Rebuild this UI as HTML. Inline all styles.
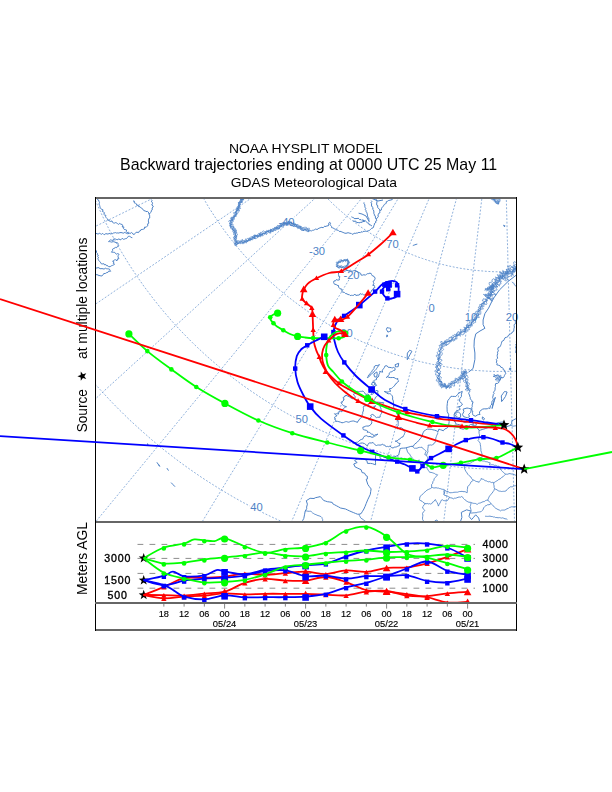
<!DOCTYPE html><html><head><meta charset="utf-8"><title>NOAA HYSPLIT MODEL</title><style>html,body{margin:0;padding:0;background:#fff;}svg{display:block;}text{font-family:"Liberation Sans",Arial,Helvetica,sans-serif;}</style></head><body>
<svg width="612" height="792" viewBox="0 0 612 792">
<rect width="612" height="792" fill="#fff"/>
<g style="filter:grayscale(1)">
<text x="228.9" y="152.6" font-size="13.4" textLength="153.6" lengthAdjust="spacingAndGlyphs">NOAA HYSPLIT MODEL</text>
<text x="120.0" y="169.9" font-size="15.9" textLength="377.2" lengthAdjust="spacingAndGlyphs">Backward trajectories ending at 0000 UTC 25 May 11</text>
<text x="230.7" y="186.6" font-size="13.0" textLength="166.3" lengthAdjust="spacingAndGlyphs">GDAS Meteorological Data</text>
<text transform="translate(87.3,432.2) rotate(-90)" font-size="14" textLength="42.9" lengthAdjust="spacingAndGlyphs">Source</text>
<polygon points="82.30,371.30 83.48,374.58 86.96,374.69 84.20,376.82 85.18,380.16 82.30,378.20 79.42,380.16 80.40,376.82 77.64,374.69 81.12,374.58" fill="#000" transform="rotate(-90 82.3 376.2)"/>
<text transform="translate(87.3,359.0) rotate(-90)" font-size="14" textLength="121.4" lengthAdjust="spacingAndGlyphs">at multiple locations</text>
<text transform="translate(87.3,595.1) rotate(-90)" font-size="14" textLength="73.1" lengthAdjust="spacingAndGlyphs">Meters AGL</text>
</g>
<defs><clipPath id="mapclip"><rect x="96" y="199" width="420" height="322"/></clipPath></defs>
<g clip-path="url(#mapclip)">
<path d="M-241.3 154.8L-230.1 152.9L-218.9 151.0L-207.9 149.1L-196.9 147.2L-186.1 145.3L-175.3 143.5L-164.6 141.6L-153.9 139.8L-143.4 138.0L-132.9 136.2L-122.4 134.4L-112.1 132.7L-101.8 130.9L-91.5 129.1L-81.4 127.4L-71.2 125.7L-61.1 123.9L-51.1 122.2L-41.1 120.5L-31.2 118.8L-21.3 117.1L-11.4 115.4L-1.5 113.7L8.3 112.0L18.0 110.4L27.8 108.7L37.5 107.0L47.2 105.4L56.9 103.7L66.6 102.1L76.2 100.4L85.9 98.8L95.5 97.1L105.1 95.5L114.8 93.8L124.4 92.2L134.0 90.5L143.7 88.9L153.3 87.2L163.0 85.5L172.7 83.9L182.4 82.2L192.1 80.6L201.9 78.9L211.6 77.2L221.5 75.5L231.3 73.8L241.2 72.2L251.2 70.4L261.2 68.7L271.3 67.0L281.4 65.3L291.6 63.5L301.9 61.8L312.4 60.0L322.9 58.2L333.5 56.4L344.2 54.5L355.1 52.6L366.2 50.8L377.5 48.8L388.9 46.9L400.7 44.9L412.7 42.8L425.1 40.7L437.9 38.5L451.3 36.2L465.6 33.7L481.4 31.0M-215.7 259.2L-204.8 255.7L-194.1 252.2L-183.4 248.7L-172.8 245.3L-162.3 241.9L-151.9 238.6L-141.6 235.2L-131.3 231.9L-121.1 228.6L-111.0 225.4L-100.9 222.1L-90.9 218.9L-81.0 215.7L-71.1 212.5L-61.2 209.3L-51.4 206.2L-41.7 203.0L-32.0 199.9L-22.4 196.8L-12.8 193.7L-3.2 190.6L6.3 187.5L15.8 184.4L25.3 181.4L34.7 178.3L44.1 175.3L53.5 172.3L62.9 169.2L72.3 166.2L81.6 163.2L90.9 160.2L100.2 157.2L109.5 154.2L118.8 151.2L128.1 148.2L137.4 145.2L146.7 142.2L156.0 139.2L165.4 136.2L174.7 133.2L184.0 130.1L193.4 127.1L202.8 124.1L212.2 121.0L221.7 118.0L231.1 114.9L240.7 111.9L250.2 108.8L259.8 105.7L269.5 102.5L279.2 99.4L289.0 96.2L298.9 93.1L308.9 89.8L318.9 86.6L329.0 83.3L339.3 80.0L349.7 76.7L360.2 73.3L370.9 69.8L381.8 66.3L392.8 62.7L404.1 59.1L415.8 55.3L427.7 51.5L440.1 47.5L453.1 43.3L466.9 38.8L482.1 33.9M-175.4 358.8L-165.2 353.8L-155.0 348.9L-145.0 343.9L-135.0 339.1L-125.1 334.2L-115.2 329.4L-105.5 324.6L-95.8 319.9L-86.2 315.2L-76.6 310.5L-67.1 305.9L-57.7 301.2L-48.3 296.6L-38.9 292.1L-29.7 287.5L-20.4 283.0L-11.2 278.5L-2.1 274.1L7.0 269.6L16.1 265.2L25.1 260.7L34.1 256.3L43.1 252.0L52.0 247.6L60.9 243.2L69.8 238.9L78.7 234.6L87.5 230.2L96.3 225.9L105.2 221.6L114.0 217.3L122.8 213.0L131.5 208.7L140.3 204.4L149.1 200.1L157.9 195.8L166.7 191.5L175.4 187.2L184.2 182.9L193.0 178.6L201.9 174.3L210.7 170.0L219.6 165.6L228.5 161.3L237.4 156.9L246.3 152.6L255.3 148.2L264.3 143.7L273.4 139.3L282.5 134.8L291.7 130.3L301.0 125.8L310.3 121.3L319.7 116.7L329.2 112.0L338.7 107.4L348.4 102.6L358.2 97.8L368.2 93.0L378.2 88.0L388.5 83.0L398.9 77.9L409.6 72.7L420.6 67.3L431.9 61.8L443.6 56.1L455.8 50.1L468.9 43.7L483.2 36.7M-121.4 451.8L-112.0 445.4L-102.7 439.0L-93.4 432.7L-84.2 426.4L-75.1 420.2L-66.1 414.1L-57.1 408.0L-48.2 401.9L-39.3 395.9L-30.5 389.9L-21.8 383.9L-13.1 378.0L-4.4 372.1L4.2 366.3L12.7 360.5L21.2 354.7L29.7 348.9L38.1 343.2L46.5 337.5L54.8 331.8L63.1 326.2L71.4 320.5L79.6 314.9L87.9 309.3L96.1 303.7L104.3 298.2L112.4 292.6L120.5 287.1L128.7 281.6L136.8 276.0L144.9 270.5L153.0 265.0L161.1 259.5L169.1 254.0L177.2 248.5L185.3 243.0L193.4 237.5L201.5 232.0L209.6 226.5L217.7 221.0L225.8 215.5L233.9 209.9L242.1 204.4L250.3 198.8L258.5 193.2L266.7 187.6L275.0 182.0L283.3 176.4L291.6 170.7L300.0 165.0L308.5 159.2L317.0 153.4L325.6 147.6L334.2 141.7L342.9 135.8L351.7 129.8L360.7 123.7L369.7 117.6L378.8 111.3L388.1 105.0L397.5 98.6L407.2 92.0L417.0 85.3L427.1 78.5L437.5 71.4L448.2 64.1L459.5 56.4L471.5 48.3L484.7 39.3M-54.8 536.1L-46.4 528.4L-38.0 520.8L-29.8 513.2L-21.6 505.7L-13.4 498.3L-5.3 490.9L2.7 483.6L10.7 476.3L18.6 469.1L26.4 461.9L34.2 454.8L42.0 447.7L49.7 440.6L57.4 433.6L65.0 426.7L72.6 419.7L80.2 412.8L87.7 406.0L95.2 399.1L102.6 392.3L110.0 385.5L117.4 378.8L124.8 372.1L132.1 365.3L139.5 358.7L146.8 352.0L154.1 345.3L161.3 338.7L168.6 332.1L175.8 325.4L183.1 318.8L190.3 312.2L197.5 305.6L204.7 299.0L211.9 292.5L219.2 285.9L226.4 279.3L233.6 272.7L240.8 266.1L248.1 259.5L255.3 252.8L262.6 246.2L269.9 239.5L277.2 232.9L284.5 226.2L291.9 219.5L299.2 212.7L306.7 205.9L314.1 199.1L321.6 192.3L329.2 185.4L336.8 178.4L344.4 171.4L352.1 164.4L359.9 157.3L367.8 150.1L375.8 142.8L383.8 135.5L392.0 128.0L400.3 120.4L408.7 112.7L417.3 104.9L426.1 96.8L435.1 88.6L444.4 80.1L454.0 71.4L464.1 62.2L474.8 52.4L486.5 41.6M23.2 610.1L30.4 601.3L37.6 592.6L44.7 583.9L51.8 575.3L58.8 566.8L65.7 558.3L72.6 549.9L79.5 541.6L86.3 533.3L93.0 525.1L99.7 516.9L106.4 508.8L113.0 500.7L119.6 492.7L126.2 484.7L132.7 476.8L139.2 468.9L145.7 461.0L152.1 453.2L158.5 445.4L164.9 437.6L171.3 429.9L177.6 422.2L183.9 414.5L190.2 406.8L196.5 399.2L202.8 391.6L209.0 384.0L215.3 376.4L221.5 368.8L227.7 361.2L233.9 353.7L240.1 346.1L246.3 338.6L252.6 331.0L258.8 323.5L265.0 315.9L271.2 308.3L277.4 300.8L283.6 293.2L289.9 285.6L296.1 278.0L302.4 270.4L308.6 262.8L315.0 255.1L321.3 247.4L327.6 239.7L334.0 231.9L340.4 224.1L346.9 216.2L353.4 208.3L359.9 200.4L366.5 192.4L373.1 184.3L379.8 176.1L386.6 167.9L393.4 159.6L400.4 151.2L407.4 142.6L414.5 133.9L421.8 125.1L429.2 116.1L436.7 106.9L444.5 97.5L452.4 87.8L460.7 77.7L469.4 67.2L478.6 56.0L488.7 43.7M110.9 672.3L116.8 662.5L122.6 652.8L128.4 643.3L134.2 633.8L139.9 624.3L145.6 615.0L151.2 605.7L156.8 596.5L162.4 587.3L167.9 578.2L173.4 569.2L178.9 560.2L184.3 551.2L189.7 542.3L195.0 533.5L200.4 524.7L205.7 516.0L210.9 507.3L216.2 498.6L221.4 490.0L226.6 481.4L231.8 472.8L237.0 464.3L242.2 455.8L247.3 447.3L252.5 438.8L257.6 430.4L262.7 422.0L267.8 413.6L272.9 405.2L277.9 396.8L283.0 388.5L288.1 380.1L293.2 371.7L298.2 363.4L303.3 355.0L308.4 346.7L313.4 338.3L318.5 329.9L323.6 321.6L328.7 313.2L333.8 304.7L338.9 296.3L344.1 287.8L349.2 279.4L354.4 270.8L359.6 262.3L364.8 253.7L370.0 245.1L375.3 236.4L380.6 227.6L385.9 218.8L391.3 210.0L396.7 201.0L402.2 192.0L407.7 182.9L413.3 173.7L419.0 164.3L424.7 154.9L430.5 145.3L436.5 135.5L442.5 125.6L448.7 115.4L455.0 105.0L461.5 94.2L468.3 83.1L475.3 71.4L482.9 59.0L491.1 45.4M206.5 721.3L211.0 710.8L215.4 700.4L219.8 690.1L224.1 679.9L228.5 669.7L232.7 659.7L237.0 649.7L241.2 639.7L245.4 629.9L249.6 620.1L253.7 610.4L257.9 600.7L262.0 591.1L266.0 581.5L270.1 572.0L274.1 562.6L278.1 553.1L282.1 543.8L286.1 534.5L290.0 525.2L294.0 515.9L297.9 506.7L301.8 497.5L305.7 488.4L309.6 479.2L313.5 470.1L317.3 461.1L321.2 452.0L325.0 443.0L328.9 433.9L332.7 424.9L336.6 415.9L340.4 406.9L344.2 397.9L348.1 388.9L351.9 380.0L355.7 371.0L359.5 362.0L363.4 353.0L367.2 343.9L371.1 334.9L374.9 325.8L378.8 316.8L382.7 307.7L386.6 298.5L390.5 289.4L394.4 280.2L398.3 270.9L402.3 261.6L406.3 252.3L410.3 242.9L414.3 233.4L418.4 223.9L422.5 214.2L426.6 204.5L430.8 194.7L435.0 184.8L439.3 174.8L443.6 164.6L448.0 154.3L452.5 143.8L457.1 133.0L461.7 122.1L466.5 110.9L471.4 99.3L476.5 87.3L481.9 74.8L487.5 61.4L493.8 46.8M308.1 756.3L311.1 745.3L314.0 734.3L316.8 723.5L319.7 712.8L322.5 702.1L325.3 691.5L328.1 681.0L330.9 670.6L333.7 660.2L336.4 650.0L339.1 639.7L341.8 629.6L344.5 619.5L347.2 609.4L349.8 599.5L352.5 589.5L355.1 579.6L357.7 569.8L360.3 560.0L362.9 550.2L365.5 540.5L368.1 530.9L370.7 521.2L373.2 511.6L375.8 502.0L378.3 492.4L380.8 482.9L383.4 473.4L385.9 463.9L388.4 454.4L390.9 445.0L393.5 435.5L396.0 426.0L398.5 416.6L401.0 407.2L403.5 397.7L406.0 388.3L408.5 378.8L411.1 369.4L413.6 359.9L416.1 350.4L418.6 340.9L421.2 331.3L423.7 321.8L426.3 312.2L428.8 302.6L431.4 292.9L434.0 283.2L436.6 273.4L439.2 263.6L441.8 253.7L444.5 243.8L447.1 233.8L449.8 223.6L452.5 213.4L455.3 203.1L458.0 192.7L460.9 182.2L463.7 171.5L466.6 160.6L469.5 149.6L472.5 138.4L475.6 126.9L478.7 115.1L481.9 102.9L485.3 90.4L488.8 77.2L492.5 63.2L496.6 47.7M413.7 776.4L415.0 765.1L416.4 753.9L417.7 742.8L419.0 731.7L420.3 720.8L421.5 709.9L422.8 699.1L424.1 688.4L425.3 677.8L426.6 667.2L427.8 656.7L429.1 646.2L430.3 635.9L431.5 625.5L432.7 615.3L433.9 605.1L435.1 594.9L436.3 584.8L437.5 574.7L438.7 564.7L439.8 554.7L441.0 544.8L442.2 534.9L443.3 525.0L444.5 515.1L445.7 505.3L446.8 495.5L448.0 485.7L449.1 476.0L450.3 466.2L451.4 456.5L452.6 446.8L453.7 437.1L454.9 427.4L456.0 417.7L457.1 408.0L458.3 398.2L459.4 388.5L460.6 378.8L461.7 369.1L462.9 359.3L464.0 349.5L465.2 339.7L466.3 329.9L467.5 320.1L468.7 310.2L469.8 300.2L471.0 290.3L472.2 280.2L473.4 270.1L474.6 260.0L475.8 249.8L477.0 239.5L478.2 229.1L479.5 218.6L480.7 208.0L482.0 197.3L483.3 186.5L484.6 175.5L485.9 164.3L487.2 153.0L488.6 141.4L490.0 129.6L491.4 117.5L492.9 105.0L494.4 92.1L496.0 78.5L497.7 64.1L499.6 48.3M521.1 781.4L520.8 770.0L520.5 758.7L520.2 747.5L519.9 736.4L519.7 725.4L519.4 714.4L519.1 703.5L518.8 692.8L518.6 682.0L518.3 671.4L518.0 660.8L517.8 650.3L517.5 639.9L517.2 629.5L517.0 619.2L516.7 608.9L516.4 598.7L516.2 588.5L515.9 578.4L515.7 568.3L515.4 558.2L515.2 548.2L514.9 538.2L514.7 528.3L514.4 518.4L514.2 508.5L513.9 498.6L513.7 488.8L513.4 478.9L513.2 469.1L512.9 459.3L512.7 449.5L512.4 439.8L512.2 430.0L511.9 420.2L511.7 410.5L511.4 400.7L511.2 390.9L510.9 381.1L510.7 371.3L510.5 361.5L510.2 351.7L510.0 341.8L509.7 331.9L509.5 322.0L509.2 312.0L508.9 302.0L508.7 292.0L508.4 281.9L508.2 271.7L507.9 261.5L507.7 251.2L507.4 240.9L507.1 230.4L506.9 219.9L506.6 209.2L506.3 198.4L506.1 187.5L505.8 176.5L505.5 165.2L505.2 153.8L504.9 142.2L504.6 130.3L504.3 118.1L504.0 105.5L503.7 92.5L503.3 78.9L502.9 64.4L502.5 48.4M628.1 771.0L626.1 759.8L624.3 748.6L622.4 737.6L620.5 726.6L618.7 715.8L616.9 705.0L615.0 694.2L613.2 683.6L611.4 673.0L609.7 662.6L607.9 652.1L606.1 641.8L604.4 631.5L602.7 621.2L600.9 611.0L599.2 600.9L597.5 590.8L595.8 580.8L594.1 570.8L592.4 560.8L590.7 550.9L589.1 541.0L587.4 531.2L585.7 521.4L584.1 511.6L582.4 501.9L580.8 492.1L579.1 482.4L577.5 472.7L575.8 463.1L574.2 453.4L572.6 443.7L570.9 434.1L569.3 424.5L567.7 414.8L566.0 405.2L564.4 395.6L562.8 385.9L561.1 376.3L559.5 366.6L557.9 356.9L556.2 347.2L554.6 337.5L552.9 327.7L551.2 317.9L549.6 308.1L547.9 298.3L546.2 288.4L544.5 278.4L542.8 268.4L541.1 258.3L539.4 248.1L537.7 237.9L535.9 227.6L534.2 217.2L532.4 206.7L530.6 196.1L528.8 185.3L526.9 174.4L525.0 163.3L523.1 152.1L521.2 140.6L519.2 128.9L517.2 116.9L515.1 104.5L512.9 91.6L510.6 78.2L508.2 63.9L505.5 48.1M732.5 745.5L729.0 734.7L725.5 723.9L722.1 713.3L718.7 702.7L715.3 692.2L712.0 681.8L708.7 671.4L705.4 661.1L702.1 650.9L698.9 640.8L695.6 630.7L692.4 620.7L689.2 610.8L686.0 600.9L682.9 591.0L679.7 581.3L676.6 571.5L673.5 561.8L670.4 552.2L667.3 542.6L664.2 533.0L661.2 523.4L658.1 513.9L655.1 504.5L652.1 495.0L649.0 485.6L646.0 476.2L643.0 466.8L640.0 457.5L637.0 448.1L634.0 438.8L631.0 429.5L628.0 420.2L625.1 410.9L622.1 401.6L619.1 392.3L616.1 383.0L613.1 373.6L610.1 364.3L607.1 355.0L604.1 345.6L601.1 336.3L598.1 326.9L595.1 317.4L592.0 308.0L589.0 298.5L585.9 289.0L582.9 279.4L579.8 269.8L576.7 260.1L573.5 250.4L570.4 240.6L567.2 230.7L564.0 220.8L560.8 210.7L557.6 200.6L554.3 190.3L550.9 179.9L547.5 169.4L544.1 158.7L540.6 147.8L537.1 136.7L533.4 125.4L529.7 113.8L525.9 101.8L521.9 89.4L517.7 76.4L513.3 62.6L508.4 47.4M-251.8 47.8L-251.5 58.6L-251.0 69.3L-250.3 80.1L-249.5 90.8L-248.5 101.5L-247.4 112.2L-246.1 122.9L-244.6 133.5L-243.0 144.2L-241.3 154.8L-239.4 165.4L-237.4 175.9L-235.2 186.5L-232.8 197.0L-230.3 207.4L-227.7 217.9L-224.9 228.2L-222.0 238.6L-218.9 248.9L-215.7 259.2L-212.3 269.4L-208.8 279.5L-205.1 289.7L-201.3 299.7L-197.3 309.7L-193.2 319.7L-189.0 329.6L-184.6 339.4L-180.1 349.1L-175.4 358.8L-170.6 368.5L-165.7 378.0L-160.6 387.5L-155.4 396.9L-150.1 406.3L-144.6 415.5L-139.0 424.7L-133.3 433.8L-127.4 442.8L-121.4 451.8L-115.3 460.6L-109.1 469.4L-102.7 478.1L-96.2 486.6L-89.6 495.1L-82.9 503.5L-76.0 511.8L-69.1 520.0L-62.0 528.1L-54.8 536.1L-47.5 544.0L-40.1 551.8L-32.5 559.5L-24.9 567.0L-17.1 574.5L-9.3 581.8L-1.3 589.1L6.7 596.2L14.9 603.2L23.2 610.1L31.5 616.9L40.0 623.5L48.5 630.0L57.2 636.5L65.9 642.7L74.7 648.9L83.6 654.9L92.6 660.8L101.7 666.6L110.9 672.3L120.1 677.8L129.4 683.1L138.8 688.4L148.3 693.5L157.8 698.5L167.4 703.3L177.1 708.0L186.8 712.6L196.6 717.0L206.5 721.3L216.4 725.5L226.4 729.5L236.4 733.3L246.5 737.0L256.7 740.6L266.9 744.0L277.1 747.3L287.4 750.4L297.7 753.4L308.1 756.3L318.5 759.0L329.0 761.5L339.5 763.9L350.0 766.1L360.6 768.2L371.1 770.2L381.7 772.0L392.4 773.6L403.0 775.1L413.7 776.4L424.4 777.6L435.1 778.7L445.8 779.5L456.6 780.3L467.3 780.8L478.0 781.2L488.8 781.5L499.6 781.6L510.3 781.6L521.1 781.4L531.8 781.0L542.6 780.5L553.3 779.9L564.0 779.1L574.7 778.1L585.4 777.0L596.1 775.7L606.8 774.3L617.4 772.7L628.1 771.0L638.6 769.1L649.2 767.1L659.7 764.9L670.2 762.6L680.7 760.1L691.1 757.5L701.5 754.7L711.9 751.8L722.2 748.8L732.5 745.5L742.7 742.2L752.9 738.7L763.0 735.0L773.0 731.2L783.1 727.3L793.0 723.2L802.9 719.0L812.7 714.6L822.5 710.1L832.2 705.5M-141.9 44.9L-141.6 54.0L-141.1 63.2L-140.5 72.4L-139.8 81.5L-139.0 90.7L-138.0 99.8L-136.9 109.0L-135.7 118.1L-134.4 127.1L-132.9 136.2L-131.3 145.3L-129.5 154.3L-127.6 163.3L-125.6 172.2L-123.5 181.2L-121.3 190.1L-118.9 199.0L-116.4 207.8L-113.7 216.6L-111.0 225.4L-108.1 234.1L-105.1 242.8L-101.9 251.4L-98.7 260.0L-95.3 268.5L-91.8 277.0L-88.2 285.5L-84.4 293.9L-80.6 302.2L-76.6 310.5L-72.5 318.7L-68.3 326.9L-64.0 335.0L-59.5 343.0L-55.0 351.0L-50.3 358.9L-45.5 366.8L-40.6 374.5L-35.6 382.3L-30.5 389.9L-25.3 397.4L-19.9 404.9L-14.5 412.3L-9.0 419.7L-3.3 426.9L2.4 434.1L8.3 441.2L14.2 448.2L20.3 455.1L26.4 461.9L32.7 468.6L39.0 475.3L45.4 481.9L52.0 488.3L58.6 494.7L65.3 501.0L72.1 507.2L79.0 513.2L86.0 519.2L93.0 525.1L100.2 530.9L107.4 536.6L114.7 542.1L122.1 547.6L129.5 553.0L137.1 558.2L144.7 563.4L152.3 568.4L160.1 573.4L167.9 578.2L175.8 582.9L183.8 587.5L191.8 592.0L199.9 596.4L208.0 600.6L216.2 604.7L224.5 608.8L232.8 612.7L241.2 616.4L249.6 620.1L258.1 623.6L266.6 627.1L275.2 630.4L283.8 633.5L292.5 636.6L301.2 639.5L309.9 642.3L318.7 645.0L327.5 647.5L336.4 650.0L345.3 652.3L354.2 654.4L363.2 656.5L372.2 658.4L381.2 660.2L390.2 661.8L399.3 663.4L408.4 664.8L417.5 666.0L426.6 667.2L435.7 668.2L444.9 669.1L454.0 669.8L463.2 670.4L472.4 670.9L481.5 671.3L490.7 671.5L499.9 671.6L509.1 671.6L518.3 671.4L527.5 671.1L536.7 670.7L545.8 670.1L555.0 669.4L564.1 668.6L573.3 667.7L582.4 666.6L591.5 665.4L600.6 664.0L609.7 662.6L618.7 661.0L627.7 659.2L636.7 657.4L645.7 655.4L654.6 653.3L663.6 651.0L672.4 648.7L681.3 646.2L690.1 643.5L698.9 640.8L707.6 637.9L716.3 634.9L724.9 631.8L733.5 628.6L742.1 625.2L750.6 621.7L759.0 618.1L767.4 614.4L775.8 610.5L784.0 606.6M-38.7 42.1L-38.5 49.8L-38.1 57.5L-37.6 65.2L-37.0 72.9L-36.3 80.6L-35.5 88.2L-34.6 95.9L-33.6 103.6L-32.4 111.2L-31.2 118.8L-29.8 126.4L-28.3 134.0L-26.8 141.5L-25.1 149.1L-23.3 156.6L-21.4 164.0L-19.4 171.5L-17.3 178.9L-15.1 186.3L-12.8 193.7L-10.4 201.0L-7.8 208.3L-5.2 215.5L-2.5 222.8L0.4 229.9L3.3 237.1L6.4 244.2L9.5 251.2L12.7 258.2L16.1 265.2L19.5 272.1L23.1 278.9L26.7 285.7L30.4 292.5L34.3 299.2L38.2 305.8L42.2 312.4L46.3 319.0L50.5 325.4L54.8 331.8L59.2 338.2L63.7 344.5L68.2 350.7L72.9 356.8L77.6 362.9L82.5 368.9L87.4 374.9L92.4 380.8L97.4 386.6L102.6 392.3L107.9 398.0L113.2 403.6L118.6 409.1L124.1 414.5L129.6 419.9L135.3 425.1L141.0 430.3L146.8 435.4L152.6 440.5L158.5 445.4L164.5 450.3L170.6 455.0L176.7 459.7L182.9 464.3L189.2 468.8L195.5 473.2L201.9 477.6L208.4 481.8L214.9 485.9L221.4 490.0L228.1 493.9L234.7 497.8L241.5 501.6L248.3 505.2L255.1 508.8L262.0 512.3L268.9 515.6L275.9 518.9L283.0 522.1L290.0 525.2L297.2 528.1L304.3 531.0L311.5 533.8L318.8 536.4L326.0 539.0L333.3 541.5L340.7 543.8L348.1 546.1L355.5 548.2L362.9 550.2L370.4 552.2L377.9 554.0L385.4 555.7L393.0 557.3L400.5 558.8L408.1 560.2L415.7 561.5L423.4 562.7L431.0 563.8L438.7 564.7L446.3 565.6L454.0 566.3L461.7 566.9L469.4 567.4L477.1 567.9L484.8 568.2L492.5 568.4L500.2 568.4L508.0 568.4L515.7 568.3L523.4 568.0L531.1 567.7L538.8 567.2L546.5 566.6L554.2 565.9L561.9 565.1L569.5 564.2L577.2 563.2L584.8 562.1L592.4 560.8L600.0 559.5L607.6 558.0L615.2 556.5L622.7 554.8L630.2 553.0L637.7 551.1L645.1 549.2L652.6 547.1L660.0 544.9L667.3 542.6L674.7 540.1L681.9 537.6L689.2 535.0L696.4 532.3L703.6 529.5L710.7 526.5L717.8 523.5L724.9 520.4L731.9 517.1L738.9 513.8M60.4 39.4L60.6 45.7L60.9 52.0L61.3 58.3L61.8 64.6L62.4 70.8L63.0 77.1L63.8 83.4L64.6 89.6L65.6 95.8L66.6 102.1L67.7 108.3L68.9 114.5L70.2 120.6L71.5 126.8L73.0 132.9L74.5 139.0L76.2 145.1L77.9 151.2L79.7 157.2L81.6 163.2L83.6 169.2L85.6 175.1L87.8 181.1L90.0 187.0L92.3 192.8L94.7 198.6L97.2 204.4L99.8 210.2L102.4 215.9L105.2 221.6L108.0 227.2L110.9 232.8L113.8 238.4L116.9 243.9L120.0 249.4L123.2 254.8L126.5 260.2L129.8 265.5L133.3 270.8L136.8 276.0L140.4 281.2L144.0 286.4L147.8 291.4L151.6 296.5L155.4 301.4L159.4 306.4L163.4 311.2L167.5 316.0L171.6 320.8L175.8 325.4L180.1 330.1L184.5 334.6L188.9 339.1L193.4 343.6L197.9 347.9L202.5 352.2L207.2 356.5L211.9 360.6L216.7 364.7L221.5 368.8L226.4 372.8L231.3 376.6L236.4 380.5L241.4 384.2L246.5 387.9L251.7 391.5L256.9 395.0L262.2 398.5L267.5 401.9L272.9 405.2L278.3 408.4L283.7 411.6L289.2 414.7L294.8 417.6L300.4 420.6L306.0 423.4L311.7 426.2L317.4 428.8L323.1 431.4L328.9 433.9L334.7 436.4L340.6 438.7L346.4 441.0L352.4 443.1L358.3 445.2L364.3 447.2L370.3 449.2L376.3 451.0L382.4 452.8L388.4 454.4L394.5 456.0L400.7 457.5L406.8 458.9L413.0 460.2L419.1 461.4L425.3 462.6L431.6 463.6L437.8 464.6L444.0 465.4L450.3 466.2L456.5 466.9L462.8 467.5L469.1 468.0L475.4 468.5L481.7 468.8L488.0 469.0L494.3 469.2L500.6 469.3L506.9 469.2L513.2 469.1L519.5 468.9L525.8 468.6L532.1 468.2L538.3 467.8L544.6 467.2L550.9 466.6L557.1 465.8L563.4 465.0L569.6 464.1L575.8 463.1L582.1 462.0L588.2 460.8L594.4 459.5L600.6 458.1L606.7 456.7L612.8 455.1L618.9 453.5L625.0 451.8L631.0 450.0L637.0 448.1L643.0 446.2L649.0 444.1L654.9 442.0L660.8 439.7L666.6 437.4L672.5 435.1L678.3 432.6L684.0 430.0L689.8 427.4L695.4 424.7M158.2 36.8L158.4 41.7L158.6 46.6L158.9 51.5L159.3 56.4L159.7 61.2L160.2 66.1L160.8 71.0L161.5 75.9L162.2 80.7L163.0 85.5L163.9 90.4L164.8 95.2L165.8 100.0L166.9 104.8L168.0 109.6L169.2 114.3L170.5 119.1L171.8 123.8L173.2 128.5L174.7 133.2L176.2 137.8L177.8 142.4L179.5 147.1L181.3 151.6L183.1 156.2L184.9 160.7L186.9 165.3L188.9 169.7L190.9 174.2L193.0 178.6L195.2 183.0L197.5 187.4L199.8 191.7L202.2 196.0L204.6 200.2L207.1 204.5L209.6 208.7L212.3 212.8L214.9 216.9L217.7 221.0L220.5 225.0L223.3 229.0L226.2 233.0L229.2 236.9L232.2 240.8L235.2 244.6L238.4 248.4L241.5 252.1L244.8 255.8L248.1 259.5L251.4 263.1L254.8 266.6L258.2 270.1L261.7 273.6L265.2 277.0L268.8 280.3L272.4 283.6L276.1 286.9L279.8 290.1L283.6 293.2L287.4 296.3L291.3 299.3L295.2 302.3L299.1 305.2L303.1 308.1L307.1 310.9L311.2 313.7L315.3 316.3L319.4 319.0L323.6 321.6L327.8 324.1L332.1 326.5L336.4 328.9L340.7 331.2L345.0 333.5L349.4 335.7L353.8 337.9L358.3 340.0L362.7 342.0L367.2 343.9L371.8 345.8L376.3 347.6L380.9 349.4L385.5 351.1L390.1 352.7L394.8 354.3L399.4 355.8L404.1 357.2L408.8 358.6L413.6 359.9L418.3 361.1L423.1 362.3L427.9 363.4L432.7 364.4L437.5 365.3L442.3 366.2L447.2 367.0L452.0 367.8L456.9 368.5L461.7 369.1L466.6 369.6L471.5 370.1L476.4 370.5L481.3 370.8L486.2 371.1L491.1 371.3L496.0 371.4L500.9 371.4L505.8 371.4L510.7 371.3L515.6 371.2L520.5 370.9L525.4 370.6L530.3 370.3L535.2 369.8L540.1 369.3L544.9 368.7L549.8 368.1L554.7 367.4L559.5 366.6L564.3 365.7L569.1 364.8L573.9 363.8L578.7 362.8L583.5 361.6L588.3 360.4L593.0 359.2L597.7 357.8L602.4 356.4L607.1 355.0L611.8 353.5L616.4 351.9L621.0 350.2L625.6 348.5L630.2 346.7L634.7 344.8L639.2 342.9L643.7 340.9L648.2 338.8L652.6 336.7M257.8 34.1L257.9 37.6L258.1 41.0L258.3 44.5L258.6 48.0L258.9 51.5L259.2 54.9L259.7 58.4L260.1 61.8L260.6 65.3L261.2 68.7L261.8 72.2L262.5 75.6L263.2 79.0L263.9 82.4L264.7 85.8L265.6 89.2L266.5 92.5L267.5 95.9L268.5 99.2L269.5 102.5L270.6 105.9L271.7 109.2L272.9 112.4L274.2 115.7L275.4 118.9L276.8 122.1L278.1 125.4L279.6 128.5L281.0 131.7L282.5 134.8L284.1 138.0L285.7 141.1L287.3 144.1L289.0 147.2L290.7 150.2L292.5 153.2L294.3 156.2L296.2 159.1L298.1 162.1L300.0 165.0L302.0 167.8L304.0 170.7L306.1 173.5L308.2 176.2L310.3 179.0L312.5 181.7L314.7 184.4L317.0 187.1L319.3 189.7L321.6 192.3L324.0 194.8L326.4 197.3L328.8 199.8L331.3 202.3L333.8 204.7L336.4 207.1L338.9 209.4L341.6 211.7L344.2 214.0L346.9 216.2L349.6 218.4L352.3 220.6L355.1 222.7L357.9 224.8L360.7 226.8L363.6 228.8L366.5 230.8L369.4 232.7L372.3 234.5L375.3 236.4L378.3 238.2L381.3 239.9L384.3 241.6L387.4 243.3L390.5 244.9L393.6 246.4L396.7 248.0L399.9 249.4L403.1 250.9L406.3 252.3L409.5 253.6L412.7 254.9L416.0 256.2L419.2 257.4L422.5 258.5L425.8 259.6L429.2 260.7L432.5 261.7L435.8 262.7L439.2 263.6L442.6 264.5L446.0 265.3L449.4 266.1L452.8 266.8L456.2 267.5L459.6 268.1L463.0 268.7L466.5 269.2L469.9 269.7L473.4 270.1L476.9 270.5L480.3 270.8L483.8 271.1L487.3 271.4L490.8 271.6L494.2 271.7L497.7 271.8L501.2 271.8L504.7 271.8L508.2 271.7L511.7 271.6L515.1 271.5L518.6 271.2L522.1 271.0L525.6 270.7L529.0 270.3L532.5 269.9L536.0 269.4L539.4 268.9L542.8 268.4L546.3 267.8L549.7 267.1L553.1 266.4L556.5 265.7L559.9 264.9L563.3 264.0L566.7 263.1L570.0 262.2L573.3 261.2L576.7 260.1L580.0 259.0L583.3 257.9L586.6 256.7L589.8 255.5L593.1 254.2L596.3 252.9L599.5 251.5L602.7 250.1L605.8 248.6L609.0 247.1M364.3 31.2L364.3 33.2L364.4 35.1L364.6 37.1L364.7 39.1L364.9 41.0L365.1 43.0L365.3 44.9L365.6 46.9L365.9 48.8L366.2 50.8L366.5 52.7L366.9 54.6L367.3 56.5L367.8 58.5L368.2 60.4L368.7 62.3L369.2 64.2L369.7 66.1L370.3 67.9L370.9 69.8L371.5 71.7L372.1 73.5L372.8 75.4L373.5 77.2L374.2 79.1L375.0 80.9L375.8 82.7L376.6 84.5L377.4 86.3L378.2 88.0L379.1 89.8L380.0 91.5L380.9 93.3L381.9 95.0L382.9 96.7L383.9 98.4L384.9 100.1L385.9 101.7L387.0 103.4L388.1 105.0L389.2 106.6L390.4 108.2L391.5 109.8L392.7 111.4L393.9 112.9L395.1 114.5L396.4 116.0L397.7 117.5L399.0 119.0L400.3 120.4L401.6 121.9L403.0 123.3L404.3 124.7L405.7 126.1L407.2 127.4L408.6 128.8L410.0 130.1L411.5 131.4L413.0 132.7L414.5 133.9L416.0 135.2L417.6 136.4L419.2 137.6L420.7 138.8L422.3 139.9L423.9 141.0L425.6 142.1L427.2 143.2L428.9 144.3L430.5 145.3L432.2 146.3L433.9 147.3L435.6 148.2L437.4 149.2L439.1 150.1L440.9 151.0L442.6 151.8L444.4 152.7L446.2 153.5L448.0 154.3L449.8 155.0L451.7 155.7L453.5 156.5L455.3 157.1L457.2 157.8L459.0 158.4L460.9 159.0L462.8 159.6L464.7 160.1L466.6 160.6L468.5 161.1L470.4 161.6L472.3 162.0L474.2 162.4L476.2 162.8L478.1 163.2L480.0 163.5L482.0 163.8L483.9 164.1L485.9 164.3L487.8 164.5L489.8 164.7L491.7 164.9L493.7 165.0L495.7 165.1L497.6 165.2L499.6 165.3L501.6 165.3L503.5 165.3L505.5 165.2L507.5 165.2L509.4 165.1L511.4 165.0L513.3 164.8L515.3 164.6L517.3 164.4L519.2 164.2L521.2 163.9L523.1 163.7L525.0 163.3L527.0 163.0L528.9 162.6L530.8 162.2L532.7 161.8L534.7 161.4L536.6 160.9L538.5 160.4L540.4 159.8L542.2 159.3L544.1 158.7L546.0 158.1L547.8 157.4L549.7 156.8L551.5 156.1L553.4 155.4L555.2 154.6L557.0 153.8L558.8 153.0L560.6 152.2L562.3 151.4" fill="none" stroke="#4d82c6" stroke-width="0.75" stroke-dasharray="1.9 1.7" opacity="0.85"/>
<rect x="277.6" y="217.2" width="17.7" height="9.5" fill="#fff"/>
<rect x="308.1" y="246.2" width="17.7" height="9.5" fill="#fff"/>
<rect x="342.6" y="270.1" width="17.7" height="9.5" fill="#fff"/>
<rect x="427.6" y="303.6" width="7.8" height="9.5" fill="#fff"/>
<rect x="463.9" y="311.8" width="14.0" height="9.5" fill="#fff"/>
<rect x="505.0" y="311.8" width="14.0" height="9.5" fill="#fff"/>
<rect x="385.5" y="239.2" width="14.0" height="9.5" fill="#fff"/>
<rect x="339.5" y="328.4" width="14.0" height="9.5" fill="#fff"/>
<rect x="294.8" y="414.1" width="14.0" height="9.5" fill="#fff"/>
<rect x="249.5" y="502.2" width="14.0" height="9.5" fill="#fff"/>
</g>
<text x="286.5" y="225.9" font-size="11.2" fill="#4d82c6" text-anchor="middle">-40</text>
<text x="317.0" y="254.9" font-size="11.2" fill="#4d82c6" text-anchor="middle">-30</text>
<text x="351.5" y="278.8" font-size="11.2" fill="#4d82c6" text-anchor="middle">-20</text>
<text x="431.5" y="312.3" font-size="11.2" fill="#4d82c6" text-anchor="middle">0</text>
<text x="470.9" y="320.5" font-size="11.2" fill="#4d82c6" text-anchor="middle">10</text>
<text x="512.0" y="320.5" font-size="11.2" fill="#4d82c6" text-anchor="middle">20</text>
<text x="392.5" y="248.0" font-size="11.2" fill="#4d82c6" text-anchor="middle">70</text>
<text x="346.5" y="337.2" font-size="11.2" fill="#4d82c6" text-anchor="middle">60</text>
<text x="301.8" y="422.9" font-size="11.2" fill="#4d82c6" text-anchor="middle">50</text>
<text x="256.5" y="511.0" font-size="11.2" fill="#4d82c6" text-anchor="middle">40</text>
<g clip-path="url(#mapclip)">
<path d="M97.6 199.0L97.8 200.0L99.0 200.6L99.1 201.7L99.5 202.6L99.1 203.8L99.2 204.9L100.0 205.7L99.9 206.8L100.3 207.8L100.8 208.7L101.8 209.4L103.1 209.9L102.3 211.5L103.5 212.0L104.5 212.7L103.8 214.3L104.6 215.0L105.9 215.3L105.6 216.7L106.1 217.6L106.8 218.4L107.6 219.0L108.0 220.2L109.1 220.2L109.7 221.3L110.7 221.4L112.0 220.9L112.5 222.3L113.4 222.9L114.4 223.1L115.7 222.6L116.7 223.0L117.5 223.6L118.4 224.4L119.8 223.4L120.7 224.1L122.0 224.5L122.8 225.2L122.2 227.0L123.9 226.9L123.5 228.6L124.2 229.4L125.4 229.6L126.5 230.0L126.3 231.5L127.1 232.7L128.4 232.3L129.2 233.0L130.1 233.5L131.6 232.5L132.4 233.1L133.1 234.3L134.2 234.3L135.1 233.6L135.8 232.5L136.9 232.2L138.6 232.6L139.1 231.3L140.3 230.9L140.9 229.7L142.2 229.5L143.3 229.2L144.4 228.8L144.7 227.0L146.1 227.3L146.8 226.4L148.0 225.4L147.5 223.9L148.9 223.1L148.5 222.0L148.3 220.9L148.6 219.9L148.5 218.8L149.8 218.0L149.6 216.9L149.8 215.9L149.2 214.7L149.5 213.7L150.2 213.0L151.1 212.2L151.3 210.6L152.1 210.1L152.3 209.0L152.0 208.0L153.3 206.9L153.0 205.9L151.7 205.0L152.5 203.7L152.5 202.6L151.4 201.8L152.0 200.5L151.2 199.6M133.0 201.0L134.4 201.2L134.3 202.9L135.5 203.3L136.5 203.9L136.8 205.3L138.2 205.2L138.7 206.7L140.0 206.7L140.8 207.8L141.8 208.3L142.7 208.9L143.2 209.9L143.9 210.7L145.2 210.9L146.0 211.6L147.4 211.4L148.4 212.1L148.8 213.7L150.0 214.0M96.0 233.3L97.1 233.8L98.2 234.0L99.3 233.3L100.4 233.7L101.5 234.3L102.7 233.4L103.7 234.4L104.8 234.5L105.8 233.6L107.0 233.9L108.1 234.1L109.1 233.3L110.3 234.0L111.3 233.2L112.4 233.6L113.5 233.0L114.6 232.8L115.6 232.6L116.7 233.1L117.8 232.9L118.9 233.1L119.9 232.6L121.0 232.6L122.1 232.7L123.2 233.3L124.2 232.5L125.3 232.7L126.3 233.3L127.5 233.7L129.0 233.5M132.3 237.7L131.1 237.4L130.2 236.6L129.6 236.3L128.3 236.3L127.6 237.4L126.8 238.3L125.6 238.6L124.4 239.1L123.4 239.3L122.2 238.3L121.2 239.5L120.1 239.8L118.9 238.8L117.9 239.6L116.8 239.6L115.6 239.1L114.4 238.8L113.4 239.1L112.9 241.1L111.6 240.2L110.5 239.9L109.6 240.5L108.6 241.7L109.6 241.6L110.6 241.8L111.6 242.1L112.7 241.8L113.7 241.7L114.9 242.1L116.2 242.6L117.2 242.7L118.2 243.5L118.1 244.6L118.7 245.5L118.3 245.9L117.4 246.4L116.7 247.7L115.6 247.3L115.1 247.9L113.8 248.4L112.6 249.1L112.6 250.6L111.5 252.2L112.5 252.3L113.6 252.3L114.7 252.3L115.4 253.4L116.2 254.2L117.7 253.6L119.1 254.3L118.1 255.7L118.0 256.9L118.6 258.1L118.9 258.8L117.6 258.8L117.0 260.8L115.4 259.7L114.4 260.0L113.5 260.6L112.6 261.3L113.9 261.8L113.3 263.6L114.6 264.2L113.4 265.0L112.6 265.4L111.4 265.8L110.2 266.6L108.9 266.8L108.0 265.8L106.6 265.7L105.9 264.6L104.6 264.9L103.9 263.7L102.8 263.9L101.8 263.9L100.8 263.3L100.5 262.2L99.5 261.4L98.8 260.6L98.2 259.4L97.9 258.5L98.5 257.3L97.6 256.5L98.4 255.3L97.3 254.8L97.4 253.3L96.5 252.5L96.5 251.0L95.5 250.0M95.5 268.0L97.0 268.0L98.0 267.6L99.0 267.8L100.0 268.7L101.0 268.7L102.0 268.6L103.0 268.8L104.1 269.1L105.3 268.2L106.4 268.7L107.5 268.8L108.6 268.9L109.5 269.2L109.9 270.3L110.7 271.2L109.7 271.4L108.6 271.2L107.9 272.4L106.8 272.5L105.9 273.2L105.2 273.5L103.7 273.6L103.1 274.8L102.2 275.7L100.9 276.1L100.0 275.3L98.9 275.9L98.1 274.7L97.0 275.0L95.5 274.0M242.6 198.0L243.7 199.6L240.5 199.2L241.2 200.7L242.3 202.3L239.1 201.9L238.7 202.8L239.5 204.3L239.0 205.3L238.1 206.2L239.0 207.7L237.0 208.2L239.0 210.2L236.4 210.3L236.6 211.6L235.3 212.2L236.5 214.2L235.7 215.1L234.5 215.8L234.3 217.0L233.5 217.8L231.7 218.1L233.0 220.0L230.9 220.2L230.7 221.3L231.4 222.9L230.1 223.5L230.8 224.5L230.7 226.0L230.8 227.3L231.8 228.4L232.6 229.2L232.9 230.5L234.1 230.9L235.3 231.4L234.3 232.1L236.0 233.5L235.5 234.6L236.0 235.9L236.6 237.2L234.7 238.2L235.4 239.4L236.0 240.6L236.1 241.7L236.3 242.9L235.1 243.5L236.7 244.7L237.4 243.1L238.7 243.3L239.7 242.6L240.6 241.9L241.7 241.7L243.3 242.9L244.1 242.1L245.0 241.2L246.2 241.2L247.6 241.6L248.2 240.1L249.1 239.4L250.1 238.8L251.6 239.4L252.4 238.4L253.0 237.0L255.1 238.8L254.6 235.5L255.8 235.6L256.9 235.6L258.7 236.9L259.2 235.4L259.6 234.0L260.9 234.3L262.2 235.2L262.8 233.4L263.9 233.3L265.0 233.0L265.8 232.1L267.0 232.1L267.8 231.0L269.3 232.2L270.6 232.1L270.6 229.3L272.6 231.1L273.5 230.3L274.2 229.0L275.1 228.3L276.5 228.7L276.7 226.9L278.8 228.3L279.7 227.7L280.2 226.6L280.8 225.5L282.2 225.5L282.8 224.1L283.5 222.6L285.2 223.2L286.7 224.8L287.8 224.5L288.3 221.4L289.4 223.3L291.4 222.0L291.7 224.3L293.6 223.1L293.9 225.3L295.9 224.1L296.4 225.8L297.2 226.9L298.7 226.7L299.8 226.6L300.8 227.1L300.9 229.7L301.8 230.2L302.9 230.4L304.1 230.6L305.6 228.7L306.5 229.1L307.5 229.5L308.3 230.4L309.4 230.0L310.3 230.6M310.3 230.6L311.5 230.9L312.5 230.3L313.7 230.2L314.7 229.6L315.7 229.0L316.9 229.5L318.0 229.0L318.9 228.1L319.9 228.0L320.9 227.5L321.9 227.3L323.1 227.8L323.9 226.8L324.8 226.2L326.0 226.6L326.9 225.8L328.2 225.9L328.8 225.1L328.7 223.9L328.9 222.9L329.7 222.2L330.5 223.2L330.1 224.5L330.7 225.5L331.5 226.4L331.6 227.6L332.6 227.8L333.6 228.1L334.3 229.0L335.4 229.0L336.1 229.8L337.1 230.0L338.1 230.3L338.9 231.1L339.9 231.6L341.0 231.3L341.9 232.1L342.9 232.3L343.9 232.8L344.9 233.2L346.0 233.3L347.0 233.0L348.1 232.7L349.1 233.0L350.1 233.3L351.2 233.4L352.1 234.3L353.2 234.0L354.1 233.2L355.2 233.5L356.1 233.0L357.2 233.2L358.1 232.6L359.1 232.4L360.2 232.7L361.1 231.7L362.3 232.3L363.1 231.4L364.2 231.4L365.3 231.2L366.4 231.4L367.4 231.1L368.4 230.7L369.5 230.4L370.3 229.7L371.0 228.9L371.7 228.3L373.0 227.9L373.6 227.0L373.7 225.8L374.4 225.0L374.3 223.8L374.9 223.0L376.0 222.4L375.6 221.1L376.8 220.5L376.3 219.1L376.9 218.1L377.9 217.3L378.4 216.2L377.8 214.8L378.8 214.1L378.9 213.0L380.1 212.5L379.7 211.2L380.2 210.3L381.5 209.9L381.5 208.7L381.9 207.7L382.5 206.8L383.5 206.2L383.8 205.2L384.4 204.4L385.3 203.8L386.3 203.3L386.2 201.8L387.3 201.4L388.1 200.8L388.9 200.3L390.1 200.3L391.0 199.8L392.1 199.8L392.6 198.3L393.7 198.2L394.8 198.2L395.8 197.7L396.9 197.6L398.0 197.9M372.0 226.0L371.1 225.4L370.1 224.8L369.0 224.6L368.7 223.1L367.6 222.9L366.7 222.4L366.0 221.4L365.2 220.4L363.8 221.2L363.2 219.8L361.8 220.3L361.0 219.5L359.9 219.8L359.0 218.9L358.1 218.1L357.0 218.7L356.0 218.4L354.9 218.8L353.8 217.9L352.6 217.4L351.4 216.8M365.0 221.0L364.0 221.6L362.7 221.4L362.0 222.6L360.9 221.9L360.0 222.9L359.0 222.6L358.2 222.6L357.0 222.5L356.1 222.0L355.4 220.9L353.8 221.5L353.2 220.4M369.4 222.0L366.0 216.0L362.0 214.0L358.6 213.2M369.4 220.4L368.8 219.4L368.9 218.2L367.8 217.4L367.6 216.2L367.4 215.1L367.2 213.9L367.0 212.8L366.1 211.9L366.1 210.7L365.3 209.7L365.8 208.4L365.0 207.3L364.8 206.2L364.9 204.9L364.0 203.7L364.0 202.4M376.0 219.0L375.5 218.1L375.3 217.0L375.4 215.9L374.2 215.2L374.4 214.1L373.7 213.2L374.0 212.0L373.7 211.0L373.5 209.9L372.5 209.2L373.2 207.8L372.2 207.0L371.7 206.0L371.4 205.0L371.8 203.8L370.8 202.9L371.9 201.6L371.2 200.6M380.0 211.0L379.9 209.8L379.0 209.0L378.3 208.1L377.5 207.2L377.9 205.8L376.7 205.1L376.8 204.0L376.6 203.0L377.1 201.9L376.8 200.9L376.2 200.0L376.0 199.0M372.0 198.5L378.0 201.0L383.0 200.0M336.3 264.3L337.1 263.3L338.4 262.8L339.1 262.2L340.2 261.8L341.1 260.3L342.3 260.7L343.3 260.1L344.6 260.1L346.0 260.3L347.6 259.3L348.0 260.7L348.4 261.5L349.0 262.9L347.6 263.8L347.6 264.8L346.5 265.5L346.1 266.9L345.5 267.3L343.7 268.2L342.6 267.4L341.4 267.2L340.2 266.4L338.8 267.4L337.8 267.1L336.4 266.5L337.4 264.9L336.3 264.3M348.0 270.6L349.1 271.0L350.2 270.0L351.4 271.0L352.4 271.2L353.6 270.7L354.9 270.3L356.0 270.4L356.9 271.7L357.9 272.0L358.7 272.8L359.8 272.8L360.7 273.4L361.1 275.1L362.6 275.2L363.9 274.7L365.5 275.2L366.5 274.2L367.7 273.6L368.8 273.7L369.0 273.2L371.1 273.4L371.6 274.6L372.2 275.7L373.4 275.9L373.9 276.9L375.0 277.5L375.1 278.8L374.6 279.8L374.1 280.8L373.0 281.4L373.5 282.6L373.9 283.8L372.7 285.3L374.3 285.5L374.6 286.5L374.9 287.6L373.5 288.0L373.2 289.5L371.8 290.0L371.5 291.1L370.8 292.0L370.3 292.8L369.2 292.9L368.0 293.1L367.2 294.7L365.9 294.5L364.8 294.8L363.6 294.8L362.5 294.0L361.4 294.3L360.2 293.6L359.2 295.1L358.1 295.1L357.0 295.2L355.9 295.5L354.8 294.0L353.6 295.4L352.5 295.4L351.4 295.3L350.2 295.6L349.1 294.4L348.1 294.7L347.0 293.8L345.7 293.6L344.9 293.0L344.2 292.3L342.8 292.1L341.8 291.6L342.0 290.1L341.7 289.0L340.0 288.8L339.4 288.1L338.6 287.1L338.5 285.5L337.0 285.3L336.2 284.5L334.9 284.3L334.0 283.7L333.6 282.3L334.0 280.9L335.5 280.9L336.4 279.5L337.9 280.2L339.5 279.8L339.2 278.2L340.0 276.8L338.7 276.4L338.7 275.1L338.5 274.6L338.5 272.8L339.7 271.6L341.1 272.0L342.1 271.1L343.4 271.2L344.6 271.3L345.7 270.8L346.8 270.4L348.0 270.6M345.3 267.9L346.0 269.5L348.0 270.6M487.2 298.9L486.9 297.5L489.4 297.9L490.0 297.0L490.7 296.1L489.9 294.5L491.4 294.0L491.3 292.7L493.1 292.2L490.1 289.9L491.7 289.3L493.9 289.0L491.4 286.8L494.8 286.9L492.7 285.0L492.8 283.0L494.0 282.6L494.9 281.9L496.7 282.1L498.2 282.1L499.1 281.4L499.8 280.6L499.1 278.1L500.0 277.7L500.3 276.4L502.8 278.0L502.0 275.2L504.0 276.2L504.7 275.5L505.1 274.3L505.4 272.9L507.4 274.1L507.1 271.7L508.5 271.8L509.3 271.1L511.4 272.4L512.3 271.8L513.0 270.8L513.1 268.9L514.4 269.0L515.3 268.4L516.6 268.4L517.0 267.0L518.0 266.5L519.6 267.1L520.0 265.5M494.0 285.0L489.0 287.8L484.6 290.2M517.0 274.5L508.0 281.5L499.6 289.8L493.0 299.0L488.6 308.1L484.9 313.6L483.1 320.0L483.1 324.6L484.9 328.3L480.0 331.0L475.8 333.8L474.3 340.0L474.0 346.6L474.9 353.0L474.9 359.4L473.0 368.6L468.5 372.2M509.5 368.2L511.0 368.6L510.5 369.8L509.3 369.5L509.5 368.2M493.0 376.5L496.0 375.5L499.0 376.2L501.5 377.5L499.5 379.5L497.0 378.8L495.0 380.0M399.3 445.8L399.6 444.5L400.4 443.7L398.7 443.2L397.3 442.2L396.4 441.3L395.2 441.2L397.0 441.0L398.0 440.3L398.7 439.3L399.9 438.9L400.9 438.0L401.7 437.1L403.0 436.9L403.5 435.7L404.2 434.7L404.5 433.5L405.1 432.3L404.3 431.5L403.9 430.5L403.4 429.6L403.1 428.8L402.2 428.4L401.3 427.5L399.5 428.0L397.5 428.9L396.8 427.8L397.2 426.5L398.3 425.6L398.1 424.6L398.2 423.6L398.3 422.6L398.3 421.6L398.2 420.6L396.7 419.9L395.2 418.6L396.4 418.1L397.2 417.3L398.0 416.5L398.6 415.2L397.4 414.5L396.9 413.4L396.9 412.2L396.4 411.1L395.4 409.7L393.4 409.0L393.6 408.2L393.8 407.1L393.7 406.0L393.3 405.0L393.1 404.0L393.5 403.0L393.3 402.0L393.4 401.0L392.9 400.0L392.5 399.0L392.7 397.9L392.6 396.9L392.0 395.5L391.3 394.7L390.4 393.9L389.3 393.6L388.2 393.8L386.6 393.1L385.6 392.0L384.3 391.5L386.2 391.9L388.3 392.2L389.4 391.1L390.9 391.1L389.8 390.2L389.5 388.7L391.3 388.5L392.6 387.5L393.4 386.6L394.5 385.9L394.9 384.7L396.0 384.0L396.6 382.9L397.7 382.2L398.7 380.9L397.7 380.0L397.8 378.5L396.4 378.8L395.2 378.3L394.0 377.5L392.7 377.5L390.8 377.6L389.0 377.4L387.5 376.6L386.3 377.5L387.4 376.9L388.1 375.8L389.2 374.5L389.2 373.2L390.5 372.0L391.7 371.9L392.5 371.0L393.4 370.5L394.7 370.4L395.3 368.7L393.5 367.3L392.9 368.0L391.4 367.7L389.9 367.4L388.3 367.4L387.3 366.0L386.1 365.7L384.8 366.2L384.5 367.3L383.9 368.2L383.1 369.2L382.3 370.2L382.6 372.2L381.2 371.8L379.7 371.4L379.8 372.7L379.3 373.8L378.8 374.8L378.8 376.0L378.3 376.9L376.9 377.7L376.3 379.0L376.6 379.6L375.5 379.8L374.5 380.3L373.4 380.9L374.6 382.1L375.2 383.6L376.6 385.4L375.1 385.9L374.3 387.2L374.3 388.3L374.3 389.5L373.9 390.7L372.8 391.5L372.2 392.6L371.6 393.7L370.9 394.4L372.6 394.2L373.6 393.5L374.1 392.4L375.0 391.6L375.9 390.4L378.1 390.9L377.8 392.0L377.6 393.0L378.3 394.0L378.0 395.2L377.7 395.5L376.7 396.6L375.4 397.4L375.1 398.6L374.3 399.5L374.2 400.5L373.6 401.5L373.8 402.4L374.8 402.5L375.8 402.4L376.7 402.1L378.5 402.2L380.1 402.4L381.9 402.6L383.7 402.7L383.1 403.7L382.3 404.6L381.7 405.9L379.9 406.1L380.4 407.2L380.9 408.2L381.0 409.4L381.3 410.2L382.0 411.1L382.9 411.6L381.7 412.2L381.4 413.5L380.7 414.5L380.2 415.6L380.1 417.1L379.0 417.3L377.8 417.2L376.4 417.6L375.2 416.6L374.1 415.3L372.3 414.4L370.6 415.4L371.4 416.5L370.8 417.4L370.0 418.1L369.5 419.2L368.6 419.6L370.6 420.1L372.7 420.1L371.7 421.4L371.8 422.9L371.0 424.4L370.0 425.1L369.1 425.9L368.0 426.1L366.7 426.0L365.3 426.3L364.0 427.0L362.9 427.1L362.9 428.3L363.3 429.6L364.8 430.0L366.3 430.3L367.5 431.0L367.3 432.4L368.5 432.2L369.7 432.5L370.6 433.2L371.4 434.2L372.8 434.2L373.6 435.7L374.6 435.3L375.6 434.6L376.5 434.5L377.9 434.2L376.9 434.6L376.1 435.3L375.4 436.1L374.4 436.3L373.3 437.0L372.0 437.3L371.0 436.9L370.0 436.4L368.8 436.7L367.7 436.4L366.8 435.7L365.4 435.9L364.0 436.5L363.3 437.8L362.6 439.2L361.3 439.5L360.1 440.0L358.9 441.1L358.1 441.9L357.2 442.4L356.1 442.3L354.4 442.9L355.7 444.0L357.1 445.4L357.9 444.6L358.5 443.8L359.7 443.7L360.7 443.1L362.6 443.0L364.5 443.6L365.9 444.7L367.4 446.1L367.9 444.7L368.6 443.4L369.7 442.9L371.3 443.0L373.1 442.5L373.8 443.4L374.5 444.3L375.1 444.9L376.5 445.5L377.6 445.1L378.5 445.0L379.9 445.1L381.2 445.0L382.2 444.1L383.2 444.9L384.7 445.0L385.6 446.4L386.6 446.6L387.6 446.4L388.6 446.7L389.8 446.2L391.0 446.8L391.7 447.7L393.1 448.0L394.2 447.2L395.3 447.1L396.2 447.0L397.2 446.5L398.2 446.0L399.3 445.8M363.0 391.0L363.7 391.8L364.5 392.5L364.9 393.6L366.1 394.4L367.6 394.2L369.0 394.8L369.0 395.8L369.5 396.8L369.6 397.8L369.7 399.0L369.1 399.9L368.1 400.7L369.3 401.3L370.5 402.4L369.8 403.5L369.0 404.1L367.2 405.0L366.0 405.4L365.0 406.2L364.0 405.7L363.5 406.6L363.3 407.7L363.5 408.7L363.4 409.8L363.4 411.0L362.7 412.1L362.8 413.3L362.2 414.3L362.2 415.5L362.3 416.1L361.4 416.7L361.2 417.8L360.4 418.5L359.4 419.1L359.0 420.3L357.9 421.1L357.5 422.4L355.7 421.7L353.8 421.0L352.8 421.0L351.8 421.2L350.8 421.3L349.8 421.8L348.7 422.2L347.7 422.0L346.6 421.6L345.6 421.7L344.6 422.1L343.6 422.5L342.0 422.8L340.5 422.2L338.9 421.7L337.3 421.3L335.5 421.4L335.7 420.2L334.9 419.3L334.8 418.3L334.6 417.1L335.5 416.4L336.8 415.6L335.6 414.9L334.5 413.7L335.5 414.0L336.6 413.7L337.6 413.8L338.5 414.1L338.6 412.9L339.3 411.9L339.3 411.0L340.8 411.2L341.9 411.9L342.3 410.4L342.7 409.1L343.8 408.5L344.6 407.8L345.4 407.0L346.5 406.7L345.0 406.2L343.4 405.7L342.4 404.4L341.2 403.2L341.0 402.3L342.1 401.7L343.1 400.9L344.1 399.9L343.5 398.7L343.1 397.4L344.3 397.1L344.9 396.0L346.0 395.3L347.8 396.1L349.6 397.0L351.0 398.0L352.6 398.7L353.2 398.3L354.4 398.4L355.1 397.9L355.1 396.5L354.4 395.5L353.2 394.4L354.9 393.6L356.4 392.9L357.4 391.3L358.4 391.6L359.4 391.7L360.4 391.4L361.3 391.4L363.0 391.0M379.5 364.6L378.5 365.0L377.4 365.5L376.2 365.5L374.9 365.9L374.1 366.9L374.2 368.4L373.2 369.3L372.4 370.3L372.0 371.2L371.5 372.1L370.7 372.8L369.9 373.5L369.9 374.7L368.6 375.1L368.1 376.5L367.3 377.7L368.5 377.2L369.3 376.3L370.3 375.3L371.2 374.2L372.2 373.2L373.5 372.5L374.1 371.2L375.3 370.3L376.1 369.4L376.7 368.4L377.4 367.4L377.9 366.3L378.9 365.6L379.5 364.6M376.9 371.9L373.9 374.0L374.5 376.8L376.7 377.1L377.2 374.1L376.9 371.9M372.7 381.9L374.0 382.9L375.4 383.9L373.7 385.4L371.4 384.5L372.7 381.9M370.9 388.5L368.6 389.8L370.4 391.4L370.9 388.5M375.5 405.6L372.4 407.7L373.9 408.7L375.5 405.6M395.1 364.7L396.9 364.0L398.7 363.3L398.2 366.7L396.8 366.8L395.5 366.9L395.1 364.7M409.7 350.2L410.8 350.7L411.9 351.3L409.9 354.8L408.6 357.2L407.3 359.7L407.2 357.1L407.4 353.1L409.7 350.2M387.1 327.6L388.3 327.9L389.5 328.1L390.7 328.4L390.8 331.0L389.3 331.6L387.9 332.1L387.2 330.8L386.4 329.4L387.1 327.6M386.9 334.9L388.0 335.8L386.6 336.9L386.9 334.9M412.8 245.6L413.8 245.2L414.9 244.8L416.1 244.4L417.3 244.1M503.6 225.2L504.3 225.5L505.0 225.7L504.5 226.8L503.6 225.2M490.6 195.9L491.3 196.4L491.4 197.5L492.7 197.3L492.6 198.7L493.4 198.8L494.3 198.9L494.2 200.2L494.8 200.3L495.7 201.0L496.1 202.1L496.4 203.3L498.3 204.1L498.4 202.5L499.0 201.2L499.0 199.8L499.3 198.3L500.8 197.7L500.2 196.0L501.5 195.2M423.7 431.4L425.4 430.2L427.1 429.1L429.2 429.2L431.2 429.3L432.9 429.8L434.6 430.2L436.3 430.7L437.9 431.9L438.9 429.1L440.4 429.7L441.9 430.2L443.3 430.8L444.8 429.0L447.3 427.9L448.3 426.5L448.8 424.1L449.2 421.7L448.1 417.6L448.8 414.8L447.2 411.6L447.1 409.1L447.0 406.6L447.3 403.7L447.7 400.8L449.4 398.6L451.0 396.3L452.6 396.4L454.2 396.4L455.8 396.5L457.4 394.7L458.9 392.9L460.6 392.2L462.3 391.4L461.4 394.2L461.4 396.6L459.9 398.4L459.5 401.3L461.0 402.7L462.5 404.1L460.6 406.4L458.4 406.6L460.3 409.3L458.6 410.1L456.8 410.9L455.3 412.0L454.1 414.5L454.3 417.5L452.7 419.2L454.1 420.9L455.4 422.5L456.1 424.1L457.7 424.4L459.3 424.7L460.9 425.1L459.9 428.4L461.6 428.8L463.3 429.3L465.2 428.2L467.0 427.1L468.8 425.8L470.6 424.5L472.6 424.9L474.6 425.3L476.7 427.4L478.9 430.0L479.1 430.5L480.7 430.0L482.2 429.5L483.7 429.1L485.3 428.6L486.8 428.1L488.6 427.3L490.4 426.4L492.2 425.6L494.2 424.2L496.2 423.4L498.2 422.6L499.7 422.4L501.1 422.2L502.6 422.0L505.2 424.3L504.4 426.2L506.4 426.7L508.1 426.2L509.8 425.7L511.5 423.7L512.0 420.7L513.6 419.9L515.3 419.0L516.9 418.1L517.4 415.7L517.8 413.2L517.4 409.3L517.0 405.4L517.8 402.4L518.7 399.5L519.5 396.5L520.8 395.6L522.2 394.6L523.5 393.7L524.8 392.8M423.7 431.4L423.1 432.8L422.2 435.1L421.3 437.4L418.8 440.4L417.3 442.1L414.3 444.5L413.3 446.3L410.8 446.4L408.9 447.0L407.1 447.5L405.2 448.0L403.6 448.1L401.9 448.2L400.1 448.6L399.9 449.9L399.1 453.1L398.7 455.0L396.8 455.9L394.9 456.8L392.5 457.0L390.1 457.3L388.7 457.7L387.8 459.4L388.4 460.3L386.6 460.4L384.8 460.6L383.2 459.9L381.6 459.2L380.1 458.5L379.9 455.4L377.6 455.0L375.9 453.7L375.5 456.9L375.5 459.8L375.5 462.6L375.6 464.8L374.1 464.3L372.5 463.7L370.6 463.4L367.5 463.4L366.8 460.4L364.0 459.3L362.3 459.3L360.5 459.2L358.7 459.1L357.0 459.0L354.6 460.6L357.2 462.5L353.7 464.0L355.2 467.0L357.2 467.9L359.1 468.8L361.1 469.7L362.1 472.6L364.5 473.1L365.9 475.6L367.4 476.3L367.3 479.1L366.2 479.3L367.8 484.4L369.4 486.7L371.1 488.9L370.7 491.6L370.3 494.3L369.0 497.1L367.7 499.8L366.2 503.5L365.1 506.3L363.9 509.0L362.5 511.3L361.1 513.6L359.2 514.2L357.5 514.2L355.4 513.4L353.3 512.5L351.1 511.6L349.3 510.8L347.4 509.9L345.5 509.0L343.0 508.5L340.5 508.0L338.6 506.9L336.7 505.9L334.7 504.8L332.8 503.8L332.2 502.4L329.8 502.0L327.4 501.7L325.6 501.1L323.7 500.5L322.0 498.5L320.3 496.6L317.9 497.2L315.4 497.7L314.0 498.5L312.0 498.4L310.1 498.3L306.3 500.7L307.4 504.2L306.6 507.1L306.7 508.7L305.2 511.1L304.5 514.8L303.8 518.4L302.6 520.6L301.4 522.9L298.6 527.1L296.9 529.4L295.1 531.7L292.0 533.0L290.4 535.5L288.8 538.0L290.7 539.7L292.1 542.5L291.2 545.1L290.3 547.7L288.8 550.5L287.3 553.3L285.8 556.1M391.9 532.2L391.6 529.4L392.9 525.1L395.3 524.3L397.7 523.6L400.0 523.0L402.1 523.9L404.1 524.9L405.8 525.5L407.5 526.2L409.2 526.8L411.1 528.2L413.0 529.6L415.5 529.5L418.0 529.4L420.8 527.3L423.6 525.3L424.7 525.1L426.6 524.9L428.5 524.6L430.5 524.3L433.4 522.2L436.3 520.1L438.2 521.3L440.0 522.6L442.3 524.4L443.6 527.0L445.0 529.7L445.4 532.7L445.7 535.8M457.6 526.5L460.0 522.7L461.0 520.0L461.9 517.4L461.6 514.9L461.3 512.4L463.1 511.5L464.9 510.7L466.7 509.8L468.9 510.5L471.1 511.1L469.9 513.0L469.0 516.4L471.6 519.6L473.7 517.2L475.7 514.8L478.7 518.0L479.6 521.5L480.5 525.0L480.4 527.0L482.2 528.2L483.9 529.5L485.6 530.8L487.4 532.0L489.2 533.2L491.0 534.5L492.9 535.8L494.8 537.1L496.7 538.4L498.5 539.7L500.3 541.1L502.2 542.5L504.0 543.9M469.0 392.5L470.0 391.2L469.0 390.3L469.0 389.1L467.3 388.6L468.1 387.1L467.3 386.4L467.9 385.2L466.8 384.2L466.5 383.2L466.9 382.1L465.6 381.1L465.9 380.1L466.4 378.8L465.4 377.5L465.3 376.4L464.4 375.5L463.4 374.1L464.2 372.9L466.3 372.0L466.1 370.7L464.5 371.5L464.7 372.9L462.8 373.6L462.5 374.5L462.2 375.6L462.1 376.9L461.8 378.4L460.5 378.1L459.3 378.7L458.4 380.0L457.5 381.1L456.2 381.8L454.9 382.5L453.7 383.2L451.7 383.1L450.7 384.6L449.2 384.9L447.9 387.1L446.1 387.2L444.8 385.9L443.1 386.0L441.4 385.6L441.4 384.2L440.9 383.1L441.4 381.5L439.2 381.5L439.0 380.3L439.4 378.7L437.3 378.1L437.9 376.8L439.0 375.9L439.7 374.3L438.4 373.4L437.7 372.4L436.4 371.2L438.8 370.2L439.1 368.9L437.3 367.2L437.5 365.8L439.2 364.7L440.5 363.5L438.9 361.9L438.3 360.9L438.8 359.7L437.7 358.9L440.0 357.7L438.9 356.3L439.2 355.0L439.5 353.8L440.0 352.5L439.5 351.0L440.4 349.9L440.6 348.5L441.8 347.5L442.2 346.2L442.2 344.6L443.1 343.0L444.7 343.5L445.7 342.2L447.1 342.3L447.6 341.3L449.4 341.9L449.5 340.4L451.3 340.3L452.4 339.0L453.4 337.6L454.3 336.6L455.4 336.0L456.6 335.4L458.2 335.3L459.1 334.9L459.8 334.0L460.5 333.1L461.1 332.0L462.7 331.1L465.3 331.4L465.8 330.2L465.4 328.1L466.3 327.2L468.6 327.7L467.8 325.4L469.6 325.5L470.6 324.9L471.6 324.2L471.3 322.4L472.8 322.2L472.9 320.6L473.2 319.2L475.6 319.5L476.0 318.1L475.8 316.6L476.3 316.1L478.5 315.4L478.7 314.0L479.1 312.7L478.5 311.1L479.9 310.3L481.0 309.2L480.4 307.5L481.7 306.8L481.7 304.3L483.4 303.2L484.3 301.5L486.4 300.7L487.2 298.9M469.0 392.5L468.7 393.8L469.6 395.0L469.7 396.3L470.3 397.4L470.1 398.7L471.0 399.4L471.7 400.3L471.7 401.5L473.1 401.9L472.7 403.0L472.4 404.1L472.1 405.2L472.3 406.5L471.8 407.3L471.9 408.9L471.7 410.2L472.8 411.1L472.5 412.4L472.6 413.6L472.8 414.8L473.8 415.6L475.7 416.2L477.3 415.0L478.8 414.5L480.1 414.4L479.5 413.3L479.6 411.6L481.0 410.3L482.7 409.1L484.3 408.8L486.0 408.9L487.7 408.6L488.7 408.0L489.9 408.5L490.2 407.2L490.3 405.9L491.3 405.0L491.8 404.0L491.8 402.6L491.9 401.3L493.3 400.2L493.2 398.8L492.6 397.3L493.1 396.0L493.2 394.7L494.1 393.5L493.5 392.2L494.3 391.2L495.0 390.2L495.1 389.1L495.1 387.7L495.5 386.5L495.3 385.1L495.7 383.5L497.5 383.4L498.9 382.3L499.0 380.9L499.9 380.0L500.6 379.0L501.0 377.4L503.0 377.9L504.0 376.7L504.4 375.6L505.0 374.5L506.0 373.2L505.1 372.4L504.8 371.4L504.6 370.2L503.2 369.8L503.2 368.4L502.3 367.7L500.8 367.2L499.9 365.6L498.3 365.2L496.8 364.8L497.1 363.5L496.3 362.2L496.9 360.9L496.3 359.5L497.6 358.2L497.3 356.7L497.2 355.2L497.7 353.7L497.5 352.2L498.4 350.8L497.8 349.3L498.1 347.6L499.6 347.1L500.5 345.8L501.0 344.6L501.4 343.4L501.7 342.1L502.3 341.0L503.9 340.3L504.3 339.2L505.0 337.7L506.5 337.3L507.8 336.7L508.5 335.1L509.8 334.5L510.7 333.6L512.0 333.0L512.5 331.8L513.8 331.2L513.8 329.8L514.0 328.4L514.4 327.1L514.1 325.6L514.4 324.2L515.6 323.6L515.4 322.4L515.4 321.3L516.1 320.5L516.4 319.5L517.6 318.9L517.5 317.8L518.4 317.1L518.6 316.4L519.3 315.1L520.5 314.4L521.4 313.0L522.7 313.3L523.8 312.8L524.9 312.3L526.1 312.8M521.5 366.5L519.9 366.9L518.4 366.1L517.4 366.3L517.0 365.2L516.9 364.1L517.8 363.2L517.8 362.1L517.0 361.0L517.3 360.0L517.0 358.8L516.6 357.7L516.6 356.4L517.3 355.1L517.0 353.8L515.8 352.8L515.7 351.5L516.1 350.2L516.4 348.9L515.6 347.8L515.9 346.7L516.3 345.7L515.7 344.5L516.8 343.7L516.4 342.5L516.3 341.4L517.3 340.7L517.5 339.6L518.7 339.0L519.0 337.9L519.0 336.6L519.5 335.7L520.2 334.9L521.5 334.3L521.6 333.1L522.6 332.5L522.4 331.0L524.0 330.7L525.0 329.7L525.6 328.4L527.0 327.9L528.0 327.0L528.6 325.8L529.1 324.8L529.8 324.0L530.9 323.5L531.2 322.4L531.4 321.4L532.1 320.5M456.6 412.3L458.3 412.0L460.6 413.8L460.6 417.2L458.8 417.7L457.5 417.2L456.1 416.7L454.7 414.5L455.5 412.7L456.6 412.3M463.1 409.1L465.0 408.6L467.0 408.0L468.5 408.3L469.9 408.6L471.3 408.9L470.8 412.3L468.6 414.5L469.6 416.6L467.2 417.8L465.3 417.2L463.4 416.5L462.5 414.4L463.9 411.6L463.1 409.1M462.0 419.8L464.0 419.5L466.0 419.2L467.5 421.8L466.0 422.1L464.6 422.5L462.9 421.6L461.3 420.7L462.0 419.8M482.4 416.9L484.5 418.5L483.6 420.1L482.3 418.9L482.4 416.9M473.0 423.2L474.8 422.5L476.4 423.9L475.6 426.3L473.9 426.7L472.9 425.2L473.0 423.2M501.3 395.9L502.9 393.7L504.5 391.5L505.8 391.7L507.1 392.0L505.5 396.4L503.2 399.8L501.6 401.6L501.5 398.8L501.3 395.9M492.1 408.5L492.9 405.7L493.7 402.9L494.5 400.1L495.3 397.3L494.1 400.5L493.0 403.6L492.5 406.1L492.1 408.5M147.5 443.4L148.1 444.6L147.2 444.4M156.9 462.3L158.3 464.4L159.7 466.4L158.5 464.2M166.9 468.1L168.5 470.6M171.1 482.6L173.0 484.6L175.0 486.7" fill="none" stroke="#4d82c6" stroke-width="1.0" stroke-linejoin="round"/>
<path d="M485.2 296.5L486.1 296.6L483.4 294.4L486.3 295.3L485.6 294.1L489.1 295.2L489.4 294.4L488.9 293.2L488.6 292.2L489.4 291.6L487.3 289.9L487.2 289.0L490.0 289.2L488.7 287.8L490.7 287.6L491.8 287.1L489.9 285.5L489.1 284.0L489.2 282.6L491.0 282.3L492.3 281.8L491.9 279.9L492.9 279.4L493.3 278.6L496.4 280.5L495.8 278.7L496.5 278.1L497.0 277.3L499.6 278.9L497.3 274.6L499.2 275.6L500.4 275.7L500.8 274.8L499.6 271.9L502.1 273.9L502.9 273.4L504.4 274.1L502.7 270.4L505.7 273.0L505.8 271.7L507.2 272.2L506.7 269.8L507.2 268.9L509.1 270.3L507.5 266.1L508.9 266.7L509.6 266.3L510.0 265.2L512.7 268.0L513.0 266.8L513.3 265.5L514.3 265.5L513.5 262.3L514.3 261.9L515.1 261.7L517.2 263.8L518.0 264.4L517.8 263.3M486.4 297.4L489.1 298.7L485.2 295.5L485.3 294.7L489.3 296.3L488.3 294.8L488.2 293.8L490.6 294.1L491.1 293.3L490.2 292.0L489.8 290.9L487.9 289.3L492.6 290.2L489.1 288.0L493.5 288.7L490.2 286.5L491.0 285.9L493.9 286.2L493.7 285.1L495.3 285.3L494.8 283.8L495.7 283.5L496.4 282.9L495.0 280.3L494.9 279.0L496.8 279.7L495.4 276.9L498.9 279.3L498.3 277.3L498.6 276.2L501.6 278.7L499.5 274.6L502.3 276.9L502.2 275.3L501.0 272.3L503.5 274.3L502.6 271.7L505.5 274.2L506.5 274.2L507.3 273.9L507.9 273.2L506.2 269.1L508.5 271.1L509.5 270.9L510.5 271.0L510.1 268.7L510.7 268.0L511.1 266.9L512.3 267.2L514.3 269.0L515.4 269.2L514.3 265.4L514.9 264.9L515.8 264.7L517.7 266.4L516.4 262.5L519.6 267.3L518.5 264.6M487.7 298.2L487.7 297.8L489.6 298.5L486.6 295.6L488.3 295.7L490.3 295.9L487.6 293.5L491.9 294.7L490.9 293.3L490.0 291.9L493.4 292.4L491.6 290.7L491.3 289.7L492.3 289.2L490.2 287.5L494.0 288.0L491.2 286.0L492.3 285.3L491.7 283.9L495.4 285.2L495.7 284.5L494.7 282.5L497.1 283.6L495.3 280.6L496.6 280.7L497.2 280.0L499.9 281.6L499.3 279.8L500.2 279.5L499.7 277.6L499.7 276.2L501.5 277.2L503.8 278.8L504.5 278.4L502.4 274.2L504.9 276.2L504.5 274.3L507.1 276.3L507.9 276.3L505.4 271.1L508.8 274.5L509.1 273.6L510.3 273.8L509.7 271.2L509.0 268.5L509.7 268.0L512.0 270.0L513.8 271.3L513.2 268.8L513.0 266.6L516.4 270.9L514.7 266.2L516.4 267.6L516.5 266.0L519.1 269.0L517.2 263.8L520.3 268.6L519.3 265.9M488.9 299.1L488.8 298.5L491.7 300.0L488.2 296.6L488.8 296.1L489.6 295.6L490.7 295.2L492.9 295.3L491.1 293.4L489.8 291.9L490.9 291.4L494.3 291.8L495.1 291.2L491.7 289.0L492.0 288.1L494.5 288.2L492.6 286.5L492.7 285.5L497.0 286.9L497.9 286.9L494.6 283.5L496.6 284.2L498.2 284.7L496.9 282.2L498.4 282.5L497.2 280.1L499.3 281.0L499.3 279.8L498.7 277.8L500.6 278.7L500.9 277.8L503.2 279.4L502.1 276.7L502.1 275.2L505.3 278.0L506.2 278.0L505.6 275.8L506.3 275.3L505.5 272.6L507.4 274.0L508.6 274.2L507.7 271.3L510.1 273.6L510.7 272.8L512.7 274.4L512.5 272.5L512.4 270.7L514.2 272.1L513.5 269.2L514.7 269.5L515.2 268.8L516.8 270.0L515.9 266.6L518.8 270.2L517.5 266.1L518.8 266.8L519.1 266.4L520.0 267.2M490.1 299.9L492.5 301.0L488.4 297.7L490.3 298.0L493.9 299.1L493.2 297.6L490.4 295.0L492.2 294.9L493.1 294.4L496.3 294.7L492.3 292.0L492.6 291.2L493.7 290.6L495.0 290.2L497.1 290.0L497.0 289.1L495.2 287.5L496.8 287.3L495.7 286.1L497.6 286.6L495.1 283.8L495.5 283.0L499.6 286.1L499.0 284.3L500.0 284.1L501.1 283.9L500.0 281.7L501.4 282.0L500.5 279.8L500.9 279.0L501.6 278.6L502.2 278.1L505.2 280.7L506.4 280.9L503.9 276.3L507.8 280.0L507.0 277.5L507.9 277.4L508.3 276.8L509.0 276.3L510.1 276.5L510.5 275.7L511.9 276.4L511.0 273.4L513.4 275.5L511.6 271.0L513.9 273.1L514.2 272.0L513.9 269.8L515.0 270.1L517.9 273.5L518.5 273.0L517.0 268.7L519.2 270.9L519.3 269.4L520.0 269.0L519.6 267.4L520.7 268.5M493.8 286.3L493.3 286.3L493.3 287.2L492.8 287.8L491.5 287.2L491.4 288.7L489.7 287.4L489.4 288.5L488.5 288.6L487.7 289.0L487.5 290.3L487.0 291.2L486.3 290.6L485.8 290.7M492.8 284.5L492.8 285.4L491.9 284.6L491.8 286.0L490.8 286.0L489.8 285.9L489.4 286.9L488.4 286.8L487.7 287.1L487.3 288.2L486.7 288.7L485.5 288.4L485.5 289.1L484.9 288.9M467.1 391.4L466.9 390.9L467.8 390.1L465.1 389.8L467.0 388.1L466.7 387.3L466.8 386.3L465.7 385.5L466.1 384.3L466.5 383.2L464.3 382.3L463.5 381.5L463.9 380.5L463.0 379.9L463.0 378.9L464.4 377.2L463.4 376.1L463.0 374.6L461.8 373.2L463.5 372.2L463.5 372.1L464.4 372.3L465.2 372.9L466.9 373.0L466.8 373.2L464.3 373.3L464.0 374.3L464.3 375.7L464.9 377.4L463.9 378.2L463.1 379.1L461.8 378.9L460.7 378.5L460.4 379.7L460.2 380.7L459.6 380.7L458.2 379.9L457.9 380.7L458.6 382.6L458.2 383.4L456.1 382.3L455.6 383.0L454.7 383.1L454.1 383.6L454.7 386.0L453.8 386.2L452.1 384.7L451.7 385.5L451.3 386.4L451.1 387.9L449.8 386.5L449.6 388.5L448.4 386.4L447.7 386.1L447.4 388.0L446.6 386.5L446.4 389.1L445.5 387.8L444.9 386.7L444.4 386.4L443.8 386.2L441.4 388.1L441.5 386.6L440.2 386.5L440.9 384.8L438.8 385.1L440.4 382.9L438.3 383.2L438.4 382.1L438.1 381.2L436.2 380.8L436.8 379.2L438.4 378.1L436.7 377.1L437.1 376.1L437.6 375.1L435.5 374.9L435.6 373.8L436.3 372.4L434.6 371.2L436.1 369.9L437.4 368.8L435.1 367.0L437.5 366.4L435.6 364.8L436.1 363.8L438.7 363.5L436.5 362.4L437.4 361.5L438.9 360.3L437.2 359.2L438.6 357.9L436.4 356.6L436.3 355.3L438.7 354.5L436.9 352.9L437.9 351.9L438.8 350.8L438.4 349.3L439.0 348.1L440.3 347.2L439.0 345.5L441.1 345.1L442.0 344.7L440.6 341.8L442.0 341.4L443.5 343.4L443.8 342.5L444.6 343.2L444.4 341.0L445.3 341.9L445.3 340.6L446.4 341.8L446.1 340.3L446.3 339.7L447.2 339.9L447.8 339.4L448.6 339.2L449.0 338.5L449.2 337.5L450.2 338.1L450.4 337.2L451.7 338.4L451.3 336.4L452.9 338.1L453.1 337.3L453.1 336.3L452.8 335.1L453.7 335.4L454.4 335.1L454.7 334.3L457.0 335.4L456.5 333.6L457.4 333.5L457.3 332.2L458.3 332.4L458.4 331.5L460.2 333.0L460.0 331.5L460.9 331.7L460.3 329.3L461.5 330.0L462.1 329.9L462.9 330.2L463.5 330.1L463.9 329.8L464.1 329.0L465.5 329.6L463.8 327.0L465.8 328.0L467.0 328.1L467.3 327.4L466.1 325.3L467.0 325.2L467.5 324.6L467.6 323.7L469.4 324.3L470.4 324.1L468.9 321.8L470.1 321.9L471.4 322.0L472.1 321.6L471.2 319.8L471.5 319.0L472.4 318.6L472.7 317.8L472.8 316.6L473.4 316.1L474.6 316.0L474.1 314.7L476.0 314.6L477.5 314.1L475.2 312.2L476.0 311.3L478.3 311.0L477.9 309.6L479.5 309.1L478.2 307.2L479.9 307.0L479.7 305.7L479.7 304.6L481.1 304.6L481.3 303.8L482.3 303.7L482.5 303.0L483.5 303.0L484.1 302.6L482.2 300.2L483.3 300.2L483.0 299.1L483.6 298.7L486.0 299.7L485.6 299.0L485.5 298.5M468.6 391.0L468.9 390.2L469.0 389.7L467.5 389.0L467.7 387.9L467.5 387.0L465.5 386.5L467.8 385.1L467.1 384.2L467.9 383.1L465.8 382.2L465.3 381.2L465.0 380.3L465.8 379.2L464.9 378.3L464.6 377.1L466.7 375.6L463.9 374.5L463.8 373.1L465.0 372.2L464.6 370.9L463.6 371.3L463.9 372.1L463.2 372.8L462.8 373.7L462.0 374.4L464.0 376.9L461.5 376.1L462.7 378.8L460.7 377.3L460.0 376.9L460.4 379.7L459.4 379.0L459.1 379.8L458.0 379.6L456.7 379.2L455.8 379.5L455.8 380.7L454.8 380.8L454.3 381.5L454.5 383.0L454.2 383.8L452.4 382.4L451.9 382.9L451.9 384.5L450.5 383.4L450.8 385.5L450.6 386.7L449.3 385.4L449.0 386.4L448.2 385.9L447.9 387.3L447.2 386.7L446.5 386.0L446.2 387.7L445.4 385.0L444.9 385.9L443.9 387.4L443.8 385.9L442.6 386.5L442.8 385.2L443.0 384.2L440.5 385.0L441.2 383.5L441.9 381.9L441.0 381.4L439.3 381.5L440.0 380.0L438.0 380.0L439.1 378.9L439.6 378.0L439.4 377.1L439.0 376.1L438.2 375.1L439.9 373.6L438.0 373.2L437.3 372.3L437.3 371.1L438.2 370.0L436.5 368.6L436.6 367.3L437.1 366.3L437.9 365.4L437.9 364.3L440.3 363.8L438.2 362.6L438.0 361.6L439.2 360.3L439.2 359.0L438.8 357.8L439.0 356.7L437.8 355.4L440.1 354.8L440.4 353.7L440.5 352.6L439.4 351.0L440.1 349.8L442.0 349.0L440.7 347.3L442.3 346.6L440.5 344.6L441.1 343.8L442.4 343.9L442.8 343.1L443.6 343.7L444.0 343.1L444.6 343.3L445.0 342.6L445.2 341.6L445.7 341.8L446.8 342.7L447.0 341.8L447.9 341.9L447.9 340.8L448.3 340.1L449.2 340.1L450.5 340.9L451.4 341.3L451.4 340.2L452.1 340.2L451.9 338.8L453.0 339.4L453.8 339.7L454.4 339.6L454.9 339.0L455.6 338.8L456.1 338.3L455.3 336.1L456.5 336.2L456.4 334.8L456.6 333.8L458.5 334.8L458.6 333.8L459.0 333.4L459.8 333.5L460.1 332.9L460.9 332.9L461.7 333.2L461.7 331.8L462.5 332.2L463.1 332.0L463.8 331.9L464.1 331.1L464.9 331.1L464.1 329.1L465.9 330.1L465.3 328.5L466.8 328.9L466.2 327.4L466.4 326.6L468.7 327.7L467.7 325.8L469.4 326.3L469.3 325.2L470.9 325.6L470.6 324.3L471.9 324.5L471.1 322.8L471.9 322.4L472.4 321.8L473.8 321.9L472.9 320.1L473.6 319.6L475.2 319.7L474.0 317.6L476.6 318.4L476.3 317.0L477.7 316.6L476.4 314.8L477.3 314.1L477.5 313.0L477.2 311.7L479.5 311.5L478.3 309.8L479.0 308.9L480.4 308.4L480.7 307.4L480.5 306.2L481.9 306.1L482.6 305.8L481.6 304.1L482.1 303.6L482.5 303.0L484.9 304.1L484.5 302.9L484.7 302.1L484.8 301.4L485.6 301.2L486.6 301.1L486.7 300.3L486.1 299.4L486.8 299.4M470.1 390.5L470.8 389.6L470.2 389.3L469.3 388.4L467.8 387.8L469.2 386.6L468.2 385.9L468.5 385.0L469.8 383.9L468.4 383.0L467.4 382.0L467.6 380.9L468.2 379.7L466.6 379.0L468.2 377.3L467.6 376.4L467.3 375.4L465.6 374.4L467.5 373.0L466.7 372.1L466.3 372.5L465.4 371.9L464.4 371.7L463.2 370.8L462.4 371.5L461.9 372.3L461.0 372.9L462.7 374.8L462.0 375.6L460.9 375.7L460.2 375.8L460.2 376.6L459.7 376.5L459.8 378.2L458.4 377.1L458.2 378.3L458.0 379.4L455.9 378.2L455.0 378.5L455.9 380.8L454.1 380.0L453.9 380.9L453.9 382.2L452.3 381.1L452.1 382.0L451.1 381.5L450.9 382.7L451.0 384.3L450.0 383.8L448.9 382.9L448.7 383.8L448.3 383.9L448.1 385.6L447.5 384.9L447.1 386.0L446.4 385.6L445.8 385.5L445.2 383.7L444.8 385.5L445.0 383.9L443.7 386.0L443.8 384.9L444.9 383.2L442.1 384.8L442.6 383.5L442.4 382.7L441.3 382.4L441.4 381.2L440.6 380.7L440.7 379.5L440.6 379.0L440.8 378.7L441.5 378.0L441.1 377.1L439.6 376.1L439.1 375.1L440.8 373.5L439.4 372.9L440.8 371.9L440.4 371.1L438.1 369.9L439.8 369.1L440.7 368.1L440.6 367.1L439.6 365.8L441.3 365.3L442.2 364.2L439.9 362.7L440.9 361.4L442.2 360.0L439.6 359.0L440.1 357.7L440.3 356.7L440.5 355.8L441.9 355.1L442.2 354.2L442.4 353.1L440.8 351.4L442.5 350.6L443.7 349.5L442.2 347.7L443.1 346.8L444.2 346.5L444.4 346.1L443.3 344.8L443.4 343.8L443.6 343.8L444.7 345.4L445.4 345.6L445.2 343.4L446.6 345.8L446.4 343.5L448.0 345.0L448.1 343.7L448.7 343.2L449.7 343.2L450.0 342.4L450.1 341.4L451.1 341.9L450.9 340.4L451.2 339.9L451.6 339.4L453.4 341.3L453.7 340.7L453.9 339.9L454.9 340.4L455.1 339.5L454.9 338.0L456.9 339.2L457.0 338.0L456.5 336.1L457.7 336.2L457.9 335.2L458.3 334.5L460.4 336.3L460.5 335.4L459.9 333.6L461.3 334.5L461.8 334.4L462.7 334.9L463.2 334.8L463.4 333.9L464.1 334.0L464.5 333.1L464.3 331.5L465.8 332.3L465.2 330.5L466.7 330.9L468.1 331.2L467.5 329.6L468.5 329.6L469.6 329.6L468.4 327.4L469.9 327.8L470.0 326.9L471.0 326.8L470.8 325.5L472.4 326.0L471.4 324.1L472.7 324.2L473.0 323.4L474.0 323.1L474.7 322.6L475.7 322.3L475.5 321.0L475.4 319.9L476.0 319.2L476.5 318.4L477.2 317.6L479.3 317.5L478.4 315.7L478.0 314.4L480.7 314.2L480.8 313.1L480.8 312.0L480.7 310.8L480.0 309.4L481.7 309.0L483.4 309.0L482.3 307.3L482.5 306.5L483.8 306.7L484.1 306.1L483.4 304.7L483.4 303.8L485.1 304.3L486.5 304.5L486.8 303.8L486.9 303.1L485.6 301.1L487.0 301.4L487.0 300.5L487.0 300.1L488.0 300.4M243.3 199.3L242.5 199.4L243.3 200.2L242.1 200.6L242.4 201.7L241.3 202.3L240.9 203.0L240.4 203.7L240.4 204.7L239.4 205.2L240.1 206.4L239.9 207.3L240.6 208.5L238.3 208.6L239.3 209.9L239.5 211.0L238.9 211.7L238.0 212.3L237.8 213.3L236.5 213.5L236.9 214.8L236.1 215.4L236.2 216.5L234.2 216.2L234.0 217.1L233.8 218.0L234.3 219.2L233.9 219.9L232.8 220.2L233.2 221.3L232.8 222.1L232.3 222.6L232.2 223.0L231.6 223.5L230.9 224.3L231.7 224.6L233.3 224.7L232.8 225.8L232.9 226.7L234.0 226.8L233.6 228.0L234.8 228.1L235.4 228.6L234.8 230.1L236.5 230.0L236.2 231.3L236.8 232.1L236.3 233.1L237.6 234.1L237.2 235.0L236.7 235.8L236.7 236.6L236.3 237.4L236.6 238.3L236.2 239.1L236.0 239.9L237.5 240.7L236.1 241.6L237.6 242.0L235.9 243.2L236.5 242.4L236.4 241.9L236.8 242.3L237.6 242.1L238.1 240.7L239.2 241.0L240.3 241.8L240.8 240.3L241.7 240.4L242.3 239.4L243.7 241.2L244.5 240.7L245.2 240.0L245.7 238.8L246.8 239.5L247.3 238.5L248.1 238.2L249.3 238.9L249.7 237.5L250.5 237.2L251.5 237.2L252.0 236.1L253.4 237.4L253.5 235.4L255.0 236.8L254.9 234.6L256.6 236.3L257.0 235.2L257.6 234.5L258.1 233.8L258.8 233.4L260.0 233.8L260.3 232.4L261.3 232.5L262.1 232.1L262.8 231.2L263.6 230.9L264.7 231.6L265.7 231.9L266.2 230.9L266.9 230.3L268.3 231.7L268.6 230.1L269.6 230.3L270.4 229.9L271.3 230.0L271.9 229.0L272.6 228.5L273.9 229.2L274.3 228.0L274.9 227.2L275.9 227.4L276.5 226.9L277.1 226.3L277.5 225.4L279.2 226.4L279.5 225.1L280.5 225.2L280.7 223.7L281.7 223.7L282.1 222.6L283.8 224.2L283.9 222.0L285.1 222.8L286.1 223.0L286.9 222.6L287.8 222.1L288.8 220.9L289.7 222.4L290.8 221.9L291.6 222.4L292.0 223.7L293.1 223.2L294.2 222.8L294.3 224.6L295.4 224.2L296.0 224.8L296.5 225.6L298.0 224.4L298.4 225.4L299.0 226.1L300.1 225.7L300.4 227.2L301.6 226.6L302.3 227.4L303.0 227.9L304.2 227.2L304.9 227.6L305.8 227.2L306.6 227.4L307.2 228.8L308.2 228.1L308.9 228.6L309.4 228.3L309.7 229.2M242.6 199.0L241.5 199.0L241.9 199.6L240.8 200.1L240.7 201.0L240.7 202.0L240.4 202.8L239.7 203.4L240.2 204.6L239.8 205.4L238.9 205.9L239.2 207.0L239.2 207.9L238.0 208.4L237.4 209.1L237.4 210.1L237.4 211.0L236.9 211.7L236.7 212.6L236.8 213.7L235.6 214.0L235.6 215.1L235.6 216.1L234.9 216.6L233.7 216.9L234.1 218.1L234.0 219.0L232.0 218.9L232.1 219.9L232.8 221.2L231.5 221.4L231.0 222.1L231.7 222.9L232.0 223.4L232.1 223.8L231.3 224.8L230.6 226.0L231.4 226.6L232.9 226.6L233.8 226.9L232.4 228.9L234.0 228.7L235.1 228.9L234.8 230.1L235.7 230.6L235.8 231.5L236.2 232.3L235.2 233.2L235.3 233.9L235.0 234.8L236.5 235.8L234.9 236.5L234.9 237.3L236.3 238.3L235.7 239.1L235.3 239.9L235.4 240.7L235.7 241.6L235.8 242.3L236.6 242.2L236.0 243.4L236.3 242.3L236.7 242.2L238.0 243.4L238.5 241.9L239.3 241.3L240.6 242.7L241.3 242.0L242.2 241.9L242.5 240.1L243.8 241.3L244.8 241.8L245.6 241.2L246.1 240.2L247.2 240.8L248.1 240.5L248.6 239.5L249.4 239.1L250.5 239.5L250.9 238.2L251.9 238.2L252.3 237.0L253.5 237.6L254.6 238.0L254.5 235.8L255.2 235.3L256.6 236.2L256.9 235.1L258.3 236.0L259.0 235.5L259.9 235.5L260.0 233.9L261.2 234.5L261.9 234.1L262.4 233.1L263.4 233.1L264.4 233.8L265.1 233.0L265.6 231.7L266.4 231.5L267.2 231.4L268.1 231.2L268.9 230.8L269.7 230.7L270.6 230.5L271.2 229.7L272.4 230.2L273.1 229.7L273.7 228.8L274.2 227.8L275.0 227.6L276.1 227.9L277.4 228.3L278.3 228.1L277.9 225.9L278.9 225.9L280.1 226.2L280.8 225.5L281.0 224.2L282.4 225.0L283.3 225.0L283.9 224.5L284.4 223.4L285.0 222.5L286.3 223.6L287.0 223.1L287.9 222.9L288.8 221.8L289.7 222.5L290.8 222.1L291.2 223.4L292.2 223.2L293.0 223.5L294.0 223.3L293.8 225.5L295.5 223.9L295.9 225.0L296.9 224.7L297.7 225.0L298.0 226.3L298.4 227.6L299.2 227.7L300.7 226.4L301.0 228.3L302.1 227.9L302.8 228.6L303.8 228.2L304.6 228.6L305.2 229.7L306.2 229.2L307.2 228.8L307.9 229.3L308.8 229.4L309.0 230.7L309.5 230.0M241.9 198.6L241.8 199.1L240.8 199.1L242.0 200.6L241.1 201.2L241.1 202.1L239.3 202.3L239.0 203.1L238.6 203.9L238.7 204.9L239.4 206.2L239.3 207.1L238.6 207.7L237.2 208.1L237.3 209.1L236.9 209.8L236.9 210.8L236.6 211.6L236.5 212.6L235.0 212.7L235.0 213.6L235.4 214.9L235.1 215.8L233.8 216.0L234.0 217.1L233.5 217.8L231.8 217.9L231.0 218.4L232.5 220.1L230.5 220.0L230.1 220.7L230.7 221.9L230.5 222.7L230.0 223.5L230.0 224.4L231.5 224.6L229.9 226.4L230.6 227.0L232.3 227.0L232.8 227.6L232.9 228.5L233.1 229.4L233.7 230.0L234.7 230.2L234.2 231.5L235.6 231.7L236.1 232.4L235.4 233.2L234.3 233.8L236.2 234.9L235.5 235.7L234.1 236.4L235.7 237.4L233.9 238.1L235.0 239.0L234.6 239.9L235.2 240.7L236.0 241.6L235.8 242.2L235.6 242.8L235.3 244.9L236.4 244.4L237.2 244.0L238.1 243.7L238.8 242.9L239.5 242.1L240.5 242.3L241.1 241.4L242.2 242.0L243.4 243.1L243.9 241.8L244.5 240.7L245.9 242.2L246.1 240.3L247.3 240.8L248.3 241.2L248.5 239.2L250.0 240.6L250.1 238.4L251.7 240.1L252.0 238.4L252.7 237.8L253.6 237.9L254.1 236.8L255.2 237.2L255.6 236.1L256.7 236.6L258.0 237.2L258.1 235.5L258.8 235.2L259.2 234.2L260.9 235.8L260.8 233.5L262.1 234.4L262.6 233.6L263.3 232.8L264.6 234.1L265.4 234.0L265.9 232.8L266.6 232.0L267.3 231.7L268.1 231.3L269.0 231.1L269.8 231.1L271.2 231.9L271.7 230.8L272.2 229.8L273.4 230.5L273.9 229.3L275.4 230.5L275.7 229.1L276.2 228.1L278.0 229.4L278.3 228.2L279.6 228.5L279.7 227.1L279.8 225.7L281.5 226.9L281.5 225.1L282.2 224.6L283.7 225.8L283.5 223.5L285.0 224.9L285.2 222.9L286.2 223.3L287.2 223.6L287.9 222.3L288.7 224.1L289.6 223.2L290.1 224.3L291.2 223.4L292.1 223.4L291.9 225.6L292.7 225.8L293.4 226.3L295.0 224.9L294.9 227.0L296.6 225.5L296.7 227.0L297.5 227.4L298.5 227.3L299.4 227.3L300.2 227.6L300.8 228.7L302.0 228.2L302.8 228.6L303.2 230.1L304.3 229.7L305.3 229.1L305.8 230.9L306.9 230.2L307.5 231.4L308.6 230.4L308.8 231.4L309.4 230.8M241.1 198.3L241.9 199.1L241.1 199.2L240.5 199.9L240.1 200.7L240.0 201.6L239.9 202.6L238.2 202.8L239.6 204.3L238.2 204.7L238.9 206.0L237.4 206.3L237.4 207.2L236.7 207.9L237.6 209.2L235.8 209.4L236.7 210.7L235.6 211.1L235.7 212.1L235.0 212.7L233.5 212.7L234.3 214.2L234.3 215.3L233.4 215.7L233.2 216.6L232.5 217.2L231.0 217.4L230.4 218.1L231.9 219.8L230.8 220.1L229.6 220.5L228.6 221.2L229.9 222.6L229.5 223.5L230.0 224.3L229.4 225.6L230.7 226.0L231.2 226.6L230.5 228.1L231.1 228.7L231.8 229.4L233.0 229.5L233.7 230.0L232.6 231.9L233.0 232.3L234.8 232.0L233.4 233.0L233.8 233.3L233.8 233.8L233.5 234.6L235.5 235.7L235.0 236.5L233.3 237.2L233.7 238.1L234.4 239.0L233.8 239.9L234.5 240.7L234.3 241.6L234.2 242.5L234.5 243.5L234.9 245.5L236.4 245.7L237.0 243.6L238.1 243.7L238.9 243.2L239.9 243.3L241.0 243.9L241.5 242.7L242.8 244.1L243.3 242.6L244.4 243.2L244.7 241.3L246.2 243.2L246.7 241.9L247.3 241.0L248.1 240.6L248.9 240.3L250.2 241.0L250.4 239.1L251.4 239.3L252.5 239.8L253.0 238.7L254.0 238.8L254.6 237.9L255.9 238.6L256.6 238.2L257.4 237.9L257.4 236.1L258.2 235.7L259.4 236.4L260.5 236.9L260.5 234.8L261.9 236.3L262.2 234.8L263.3 235.5L263.9 234.7L264.4 233.7L265.1 233.1L266.5 234.7L266.8 232.8L267.8 233.2L268.5 232.5L269.6 232.9L270.7 233.2L270.8 231.2L271.8 231.1L273.1 231.9L273.7 231.1L274.3 230.2L275.3 230.2L276.1 229.9L277.0 229.6L277.3 228.3L279.0 229.2L279.3 228.1L280.0 227.6L280.4 226.5L281.0 226.0L282.6 227.2L282.9 226.1L283.9 226.1L284.1 224.7L285.2 225.4L285.5 223.8L286.3 223.4L287.4 225.1L288.2 225.3L288.8 223.4L289.6 223.3L290.2 224.0L290.5 224.9L291.2 225.2L291.7 226.0L292.8 225.6L293.3 226.5L294.3 226.3L295.4 225.9L295.9 226.8L296.7 227.1L297.4 227.5L297.8 228.7L299.2 227.9L299.7 228.9L300.6 229.3L301.4 229.7L302.5 229.3L303.2 230.1L304.4 229.4L305.2 229.6L305.9 230.4L306.7 231.1L307.6 230.7L308.2 232.1L308.9 230.9L309.2 231.6M491.6 195.5L492.1 195.1L492.1 195.4L492.2 195.7L492.8 195.6L492.1 196.8L492.5 196.8L493.2 196.6L493.8 196.4L493.7 196.9L493.0 198.1L494.0 197.4L493.5 198.5L494.6 197.5L494.2 198.4L494.9 198.0L494.6 198.9L494.9 199.1L495.7 198.5L495.4 199.5L495.4 199.9L496.4 199.7L497.1 199.9L497.2 200.4L496.3 201.5L497.2 201.4L497.4 201.9L498.2 201.9L497.9 202.4L497.9 201.5L497.3 202.2L497.5 202.6L498.1 202.6L497.7 201.9L498.6 201.5L497.3 200.1L497.9 199.4L498.1 198.6L499.2 198.1L499.7 197.5L499.2 196.6L499.0 196.0L500.6 196.3L500.7 195.9L499.8 195.1L500.4 195.1M490.1 196.8L490.2 197.0L490.0 197.5L491.3 196.7L490.7 197.7L491.6 197.2L491.2 198.1L490.9 198.9L492.0 198.3L491.5 199.3L492.7 198.4L492.3 199.5L492.3 200.0L493.5 198.9L493.0 200.1L494.1 199.2L493.7 200.1L494.2 200.0L494.0 200.6L494.5 200.4L495.2 200.2L494.2 201.3L494.3 201.7L496.0 201.1L495.1 202.2L496.0 202.2L495.6 203.0L496.3 203.1L496.7 203.3L497.1 203.5L497.5 203.5L498.8 203.9L498.7 203.1L498.8 202.4L499.8 201.9L499.8 200.9L500.3 200.2L499.9 199.1L499.9 198.2L501.0 198.2L501.8 198.2L501.1 197.2L501.2 196.7L502.0 196.7L501.8 196.2L502.1 196.1M493.7 375.2L494.2 374.1L495.0 375.8L495.9 375.7L497.1 374.8L498.3 374.7L498.9 376.3L500.8 375.2L501.0 376.5L500.7 377.4L500.7 378.0L500.6 379.2L499.8 380.9L498.8 380.3L498.0 381.2L497.0 380.5L496.7 380.8L496.2 380.4M494.3 377.1L494.6 376.1L495.2 377.4L496.0 377.4L497.0 376.6L497.5 377.8L498.5 377.4L498.8 378.3L499.3 377.9L499.8 377.2L499.4 377.4L499.8 378.3L499.2 378.3L498.6 378.8L497.6 377.6L496.8 379.2L496.3 378.2L495.8 378.4M336.4 263.1L336.2 262.2L336.9 262.1L338.3 262.3L338.6 260.9L339.5 260.2L340.5 259.9L341.4 259.8L342.5 260.5L343.5 260.5L344.2 259.7L345.2 259.3L346.1 260.0L347.4 258.9L347.7 260.3L348.1 260.9L349.3 261.6L349.6 262.6L348.9 263.4L348.8 264.5L347.8 265.1L348.1 266.5L347.0 266.9L346.2 267.4L345.4 268.6L344.4 268.5L343.4 268.1L342.5 267.4L341.7 267.2L340.8 267.0L339.7 268.2L338.5 268.1L337.8 267.0L337.3 266.0L336.5 266.2L336.2 265.8M337.0 263.6L337.2 263.2L337.4 262.6L338.5 262.6L338.9 261.5L340.2 262.2L340.9 261.9L341.5 260.3L342.6 261.0L343.6 261.1L344.3 260.0L345.3 260.5L346.1 260.4L347.0 260.1L347.2 261.0L348.6 260.9L348.0 261.8L349.2 262.6L347.7 263.1L347.5 263.9L347.8 265.1L347.8 266.3L346.2 265.9L345.9 267.1L345.1 266.5L344.3 267.6L343.7 266.6L342.5 267.6L341.7 267.4L340.8 267.2L339.9 266.9L338.7 267.5L337.8 266.9L337.2 266.2L337.6 265.0L336.7 265.2M337.5 264.2L337.6 263.6L338.2 263.6L338.7 262.8L339.3 262.1L340.3 262.5L341.0 261.9L341.8 261.5L342.9 262.1L343.6 261.3L344.4 260.6L345.5 261.7L346.1 260.9L347.0 260.3L347.8 260.7L347.3 261.6L348.2 261.9L347.3 262.6L347.7 263.3L347.6 264.0L346.9 264.6L346.8 265.5L346.0 265.8L345.4 265.9L344.9 266.2L344.4 265.8L343.6 266.8L342.7 266.9L341.8 265.6L340.9 266.0L340.0 266.0L338.9 266.7L338.9 265.3L337.9 265.2L337.7 264.8L337.3 264.6" fill="none" stroke="#4d82c6" stroke-width="0.8" stroke-linejoin="round" opacity="0.85"/>
<path d="M359.2 514.2L359.3 515.3L359.8 516.2L360.3 517.1L360.9 518.1L362.0 518.9L363.3 519.5L364.1 520.6L365.4 521.2L366.4 522.2L367.8 522.4L368.9 523.2L369.9 523.9L371.2 524.2L372.5 524.6L373.8 524.6L374.9 524.7L376.1 525.2L377.0 526.3L378.0 527.2L379.1 527.8L379.9 529.0L381.2 529.4L382.3 530.0L383.4 530.7L384.8 530.5L386.0 531.1L387.2 531.3L388.5 531.5L389.6 531.9L390.8 531.8L391.9 532.2M305.2 511.1L306.5 510.9L307.9 511.2L309.3 511.3L310.5 511.0L311.5 512.0L312.5 512.9L313.8 513.6L314.8 514.3L315.9 514.6L316.9 515.1L318.0 515.6L319.1 515.8L320.1 516.3L321.0 516.6L321.9 517.5L322.2 518.6L322.7 519.6L322.7 520.7L321.2 522.1L319.2 522.6L318.4 523.1L317.6 523.7L316.7 524.3L315.9 524.7L315.2 526.3L314.6 528.0L314.1 529.7L314.0 531.5L313.6 532.5L312.8 533.2L312.3 534.1L311.9 535.1L310.8 535.6L310.4 536.8L309.2 536.3L307.9 536.3L306.5 535.7L306.8 537.6L307.6 539.4L307.6 541.3L308.1 543.4L307.0 544.6L305.8 545.7L304.4 546.6L303.9 548.1L303.3 549.2L303.8 550.2L303.6 551.3L303.8 552.6L302.9 553.1L302.2 553.8L301.0 554.0L300.6 555.1L299.8 555.7L299.1 556.1L298.8 557.8L298.4 559.5M406.4 447.9L406.6 448.9L407.0 450.0L407.2 451.1L407.7 452.0L408.5 453.4L409.9 454.3L410.5 455.9L411.5 457.1L412.5 458.2L413.3 459.3L414.3 460.2L415.3 461.0L416.5 461.5L418.1 461.8L418.3 460.7L419.0 459.8L419.3 461.7L420.3 463.5L421.0 465.2L422.1 466.0L423.3 466.7M411.9 446.3L413.1 446.8L413.8 447.8L414.7 448.4L415.8 448.2L417.0 448.3L418.0 447.7L419.3 447.4L420.5 447.4L422.0 447.2L422.6 448.3L423.6 448.9L424.5 449.6L425.4 450.5L426.3 451.2L425.3 453.0L424.8 454.7L426.6 455.3M426.6 455.3L426.8 456.4L427.7 457.1L428.0 458.0L427.2 459.7L426.4 461.4L424.9 462.2L423.5 463.2L423.3 465.0L423.4 466.5L424.4 467.3L425.6 467.6L426.6 468.0L427.3 466.5L427.8 465.2L427.9 464.0L427.2 463.1L426.5 462.3L426.2 461.2M426.8 468.1L427.6 468.8L427.9 469.8L428.5 470.7L429.0 471.6L429.9 472.3L431.1 472.4L432.3 472.7L433.3 473.1L434.4 473.4L435.4 474.2L436.5 474.4L437.6 474.8L436.5 476.1L435.3 477.5L434.1 478.8L433.9 480.4L432.9 481.6L432.7 483.3L431.6 484.5L431.6 486.1L431.6 487.7M431.6 487.7L432.7 487.5L433.8 488.0L435.0 487.9L436.1 487.7L437.2 488.1L438.3 488.0L439.3 488.5L440.3 488.6L441.2 489.0L442.2 489.3L443.2 489.3L444.4 489.7L443.8 491.4L444.2 493.0L443.9 494.7L444.9 495.5L446.2 495.6L447.4 496.1L448.5 496.7L449.8 497.5L448.8 498.1L448.4 499.2L447.8 500.2L446.9 500.9L445.8 500.9L444.7 500.7L443.6 500.6L442.6 499.8L441.6 499.9L440.8 501.3L440.1 502.9L439.2 504.3L438.4 506.1L437.9 504.3L437.2 502.6L436.1 501.2L435.4 499.5L434.1 501.0L433.5 501.8L432.5 502.2L432.1 503.3L431.3 503.7L430.3 504.1L429.3 503.6L428.2 504.0L427.2 503.4L426.1 503.8L425.0 503.6L424.0 502.9L422.9 502.2L422.0 501.2L420.8 500.7L419.5 500.0L419.7 498.3L420.0 496.5L421.5 495.3L422.9 493.9L424.2 492.5L425.8 491.3L427.1 490.0L428.3 489.5L429.4 489.0L430.6 488.5L431.6 487.7M425.1 503.4L424.6 504.5L423.7 505.2L423.3 506.3L422.4 507.0L422.9 507.9L423.3 508.9L424.0 509.6L424.9 510.5L423.4 511.8L422.5 513.6L422.9 515.1L422.7 516.6L422.5 518.1L422.6 519.5L423.6 521.1L424.5 522.8L425.3 524.5M426.6 455.3L427.2 453.4L428.0 451.6L427.7 450.0L427.9 448.4L428.2 446.8L428.1 445.1L429.0 445.2L430.0 445.0L430.9 444.9L431.8 445.2L432.5 444.7L433.5 444.3L433.8 443.3L434.9 442.8L435.3 441.9L435.6 440.0L435.8 438.0L436.4 436.6L436.8 435.2L437.6 433.9L437.8 432.4M448.4 417.7L449.3 417.8L450.1 418.2L451.0 418.4L451.9 418.8L452.7 419.5L453.6 419.0L454.4 419.6L455.2 419.5M479.1 430.5L479.0 432.0L479.1 433.4L479.5 434.9L479.5 436.3L479.0 437.3L478.7 438.5L478.7 439.7L478.0 440.6L479.3 441.9L480.2 443.3L480.3 444.7L480.6 446.2L480.7 447.7L480.9 449.1L480.9 450.8L481.5 452.3L481.9 453.8L482.2 455.4L482.0 457.0L481.6 458.8L480.8 460.4M480.8 460.4L480.0 459.5L479.0 458.8L477.6 458.0L476.9 459.1L475.9 459.9L474.8 460.5L473.8 461.4L472.6 461.7L471.6 462.5L470.6 463.0L469.5 463.4L468.3 463.3L467.3 464.0L466.2 464.2L464.9 464.2L463.4 464.7L464.3 466.3L464.4 468.1L465.1 469.8L465.9 471.4L467.0 472.9L467.9 474.4L468.8 475.4L469.9 476.2L470.9 477.0L471.5 478.3L472.3 479.4L473.4 480.1M473.4 480.1L472.1 481.2L470.7 482.3L470.3 483.6L469.5 484.7L468.7 485.8L467.6 486.6L467.6 488.1L467.3 489.6L467.3 491.1L467.2 492.7L466.2 492.4L465.2 491.7L464.1 491.6L463.0 491.7L462.1 491.3L460.9 491.5L459.7 491.5L458.6 491.8L457.5 492.2L456.3 492.2L455.1 492.2L453.9 492.3L452.6 492.6L451.2 492.7L449.9 492.8L448.9 492.2L448.0 491.5L446.7 491.5L445.8 490.8L444.8 490.3M444.8 490.3L444.7 491.8L444.4 493.3L443.9 494.7M449.7 497.3L450.8 497.9L452.1 498.0L453.3 498.9L454.4 498.2L455.7 498.2L456.8 497.8L458.0 497.3L459.2 497.0L460.5 497.2L461.6 496.5L462.8 497.3L463.5 498.5L464.5 499.5L465.8 500.2L466.6 501.3L467.8 501.7L468.9 502.3L470.1 502.2L471.3 502.7M471.3 502.7L472.3 503.0L473.3 503.3L474.3 503.4L475.3 503.4L476.3 504.0L477.4 504.3L478.4 503.4L479.6 503.1L480.8 502.8L481.9 502.2L483.1 501.7L484.3 501.6L485.3 500.7L486.4 500.3L487.9 500.1L488.0 499.1L488.6 498.2L488.9 497.2L489.3 496.3L490.1 495.6L490.5 494.7L492.0 493.4L493.0 491.7L493.8 490.8L494.1 489.8L494.6 488.8M494.6 488.8L494.1 487.4L494.1 485.9L493.7 484.4L493.8 482.7L492.8 482.3L491.6 482.6L490.6 482.1L489.7 481.6L488.5 481.8L487.5 481.5L486.5 480.9L485.3 480.7L484.3 480.1L483.4 479.3L482.3 479.1L481.1 478.5L480.9 479.7L480.2 480.6L479.4 481.4L479.1 482.3L478.0 481.8L476.8 481.6L475.6 481.2L474.6 480.5L473.4 480.1M480.8 460.4L482.0 460.8L483.3 461.0L484.5 461.1L485.4 461.6L486.3 461.7L487.3 461.8L488.2 462.3L489.1 462.6L490.2 462.8L489.8 464.0L489.3 464.8L490.4 464.9L491.5 464.7L492.6 464.7L493.7 464.9L494.6 465.4L495.7 465.3L496.7 465.7L497.6 466.3L499.0 466.2L499.9 467.6L500.4 469.4L501.4 470.4L502.4 471.5L503.5 472.3L504.4 473.4L505.7 474.2M505.7 474.2L504.5 475.3L503.3 476.4L502.1 477.1L501.2 478.1L500.1 478.9L498.8 479.4L497.8 480.3L496.8 480.9L495.7 481.5L494.7 482.2L493.7 482.9M505.7 474.2L506.8 474.2L507.9 474.2L509.0 473.6L510.1 473.6L511.1 474.0L512.2 473.9L513.2 474.4L514.2 474.6L515.2 475.1L516.4 475.3L517.5 475.2L518.6 474.5L519.7 474.9L520.8 475.0L521.9 475.3L523.0 475.4L524.1 475.8L525.1 476.4L526.1 476.7L527.4 476.5L528.5 477.3L529.8 477.2M494.6 488.8L495.8 489.3L497.0 489.8L498.1 490.7L499.2 491.1L500.3 491.2L501.4 491.5L502.5 491.4L503.6 491.3L504.7 491.3L505.9 491.0L506.9 489.8L507.9 488.6L509.2 487.8L510.3 486.8L511.4 486.8L512.5 486.7L513.4 486.1L514.5 485.8L515.5 485.7L516.8 485.5L517.8 484.7L519.0 484.4L520.1 483.5L521.1 483.9L522.2 484.2L523.4 483.8L524.4 484.3L525.5 484.5L526.6 484.3M487.7 500.0L488.8 501.2L489.8 502.4L491.0 503.5L492.3 504.7L493.4 506.0L494.5 507.3L495.7 508.3L496.9 508.9L498.0 509.6L499.3 510.0L500.5 510.9L501.5 510.2L502.6 510.1L503.8 510.1L504.9 510.0L505.9 509.4L507.0 508.7L508.4 508.4L509.4 507.4L510.7 507.2L511.8 506.7L512.9 506.9L514.0 506.9L515.1 506.7L516.2 506.9M471.3 502.7L470.9 503.6L470.7 504.6L470.5 505.6L470.1 506.6L470.5 508.1L470.9 509.6L471.1 511.1M469.9 513.0L471.0 512.9L472.0 513.1L473.0 512.8L474.1 512.9L475.1 512.6L476.1 512.8L477.2 512.3L478.4 512.1L479.6 511.9L480.8 511.8L481.6 511.0L483.1 509.7L483.6 507.9L484.8 506.5L485.7 505.7L486.8 505.4L487.7 504.7L489.0 504.8L490.0 504.3L491.0 503.6M485.1 516.2L486.3 516.3L487.5 516.4L488.7 516.3L490.0 516.1L491.1 516.5L492.3 516.5L493.4 517.0L494.6 517.0L495.7 517.6L496.9 517.5L498.1 517.8L499.3 517.6L500.4 517.8L501.6 518.1L502.8 517.8L503.8 518.3L505.0 518.8L506.3 518.9L507.4 519.5M509.8 425.7L510.9 425.4L511.9 425.7L512.9 426.2L513.9 426.1L514.9 425.9L515.9 425.8L516.8 425.9L517.8 426.5L518.7 426.5L519.7 426.2L520.6 426.0L521.5 425.9L522.5 426.4L523.4 426.0L524.3 426.1L525.2 425.9L526.2 426.2L527.1 425.6L528.0 425.9M526.1 312.8L526.1 311.1L525.7 309.5L525.1 307.9L524.6 306.2L524.3 304.6L524.3 302.9L524.1 301.2L523.7 299.7L523.4 298.2L523.1 296.8L522.2 295.4L522.2 293.8L522.2 292.1L521.2 291.8L520.5 291.2L519.9 290.5L519.4 289.7L518.8 289.1L518.3 288.3L517.6 287.7L517.2 286.9L516.1 286.6L515.5 285.9L515.1 285.1L514.3 284.6L514.0 283.7L513.5 282.9L512.5 282.6L512.1 281.8" fill="none" stroke="#4d82c6" stroke-width="0.85" stroke-linejoin="round"/>
</g>
<rect x="95" y="197" width="422" height="2" fill="#666"/>
<rect x="95" y="521" width="422" height="2" fill="#666"/>
<rect x="95" y="602" width="422" height="2" fill="#666"/>
<rect x="95" y="629" width="422" height="2" fill="#666"/>
<rect x="95" y="197" width="1" height="434" fill="#000"/>
<rect x="516" y="197" width="1" height="434" fill="#000"/>
<line x1="137.5" y1="544.4" x2="475" y2="544.4" stroke="#8c8c8c" stroke-width="1" stroke-dasharray="5.8 6.2"/>
<line x1="137.5" y1="558.4" x2="475" y2="558.4" stroke="#8c8c8c" stroke-width="1" stroke-dasharray="5.8 6.2"/>
<line x1="137.5" y1="573.4" x2="475" y2="573.4" stroke="#8c8c8c" stroke-width="1" stroke-dasharray="5.8 6.2"/>
<line x1="137.5" y1="588.2" x2="475" y2="588.2" stroke="#8c8c8c" stroke-width="1" stroke-dasharray="5.8 6.2"/>
<line x1="163.85" y1="603.5" x2="163.85" y2="606.6" stroke="#777" stroke-width="0.9"/>
<line x1="184.10" y1="603.5" x2="184.10" y2="606.6" stroke="#777" stroke-width="0.9"/>
<line x1="204.35" y1="603.5" x2="204.35" y2="606.6" stroke="#777" stroke-width="0.9"/>
<line x1="224.60" y1="603.5" x2="224.60" y2="608.6" stroke="#777" stroke-width="0.9"/>
<line x1="244.85" y1="603.5" x2="244.85" y2="606.6" stroke="#777" stroke-width="0.9"/>
<line x1="265.10" y1="603.5" x2="265.10" y2="606.6" stroke="#777" stroke-width="0.9"/>
<line x1="285.35" y1="603.5" x2="285.35" y2="606.6" stroke="#777" stroke-width="0.9"/>
<line x1="305.60" y1="603.5" x2="305.60" y2="608.6" stroke="#777" stroke-width="0.9"/>
<line x1="325.85" y1="603.5" x2="325.85" y2="606.6" stroke="#777" stroke-width="0.9"/>
<line x1="346.10" y1="603.5" x2="346.10" y2="606.6" stroke="#777" stroke-width="0.9"/>
<line x1="366.35" y1="603.5" x2="366.35" y2="606.6" stroke="#777" stroke-width="0.9"/>
<line x1="386.60" y1="603.5" x2="386.60" y2="608.6" stroke="#777" stroke-width="0.9"/>
<line x1="406.85" y1="603.5" x2="406.85" y2="606.6" stroke="#777" stroke-width="0.9"/>
<line x1="427.10" y1="603.5" x2="427.10" y2="606.6" stroke="#777" stroke-width="0.9"/>
<line x1="447.35" y1="603.5" x2="447.35" y2="606.6" stroke="#777" stroke-width="0.9"/>
<line x1="467.60" y1="603.5" x2="467.60" y2="608.6" stroke="#777" stroke-width="0.9"/>
<g style="filter:grayscale(1)">
<text x="163.85" y="616.7" font-size="9.2" text-anchor="middle" stroke="#000" stroke-width="0.15">18</text>
<text x="184.10" y="616.7" font-size="9.2" text-anchor="middle" stroke="#000" stroke-width="0.15">12</text>
<text x="204.35" y="616.7" font-size="9.2" text-anchor="middle" stroke="#000" stroke-width="0.15">06</text>
<text x="224.60" y="616.7" font-size="9.2" text-anchor="middle" stroke="#000" stroke-width="0.15">00</text>
<text x="244.85" y="616.7" font-size="9.2" text-anchor="middle" stroke="#000" stroke-width="0.15">18</text>
<text x="265.10" y="616.7" font-size="9.2" text-anchor="middle" stroke="#000" stroke-width="0.15">12</text>
<text x="285.35" y="616.7" font-size="9.2" text-anchor="middle" stroke="#000" stroke-width="0.15">06</text>
<text x="305.60" y="616.7" font-size="9.2" text-anchor="middle" stroke="#000" stroke-width="0.15">00</text>
<text x="325.85" y="616.7" font-size="9.2" text-anchor="middle" stroke="#000" stroke-width="0.15">18</text>
<text x="346.10" y="616.7" font-size="9.2" text-anchor="middle" stroke="#000" stroke-width="0.15">12</text>
<text x="366.35" y="616.7" font-size="9.2" text-anchor="middle" stroke="#000" stroke-width="0.15">06</text>
<text x="386.60" y="616.7" font-size="9.2" text-anchor="middle" stroke="#000" stroke-width="0.15">00</text>
<text x="406.85" y="616.7" font-size="9.2" text-anchor="middle" stroke="#000" stroke-width="0.15">18</text>
<text x="427.10" y="616.7" font-size="9.2" text-anchor="middle" stroke="#000" stroke-width="0.15">12</text>
<text x="447.35" y="616.7" font-size="9.2" text-anchor="middle" stroke="#000" stroke-width="0.15">06</text>
<text x="467.60" y="616.7" font-size="9.2" text-anchor="middle" stroke="#000" stroke-width="0.15">00</text>
<text x="224.60" y="626.6" font-size="9.4" text-anchor="middle" stroke="#000" stroke-width="0.15">05/24</text>
<text x="305.60" y="626.6" font-size="9.4" text-anchor="middle" stroke="#000" stroke-width="0.15">05/23</text>
<text x="386.60" y="626.6" font-size="9.4" text-anchor="middle" stroke="#000" stroke-width="0.15">05/22</text>
<text x="467.60" y="626.6" font-size="9.4" text-anchor="middle" stroke="#000" stroke-width="0.15">05/21</text>
<text x="104.30" y="562.0" font-size="10.6" textLength="26.0" lengthAdjust="spacing" stroke="#000" stroke-width="0.35">3000</text>
<text x="104.30" y="584.2" font-size="10.6" textLength="26.0" lengthAdjust="spacing" stroke="#000" stroke-width="0.35">1500</text>
<text x="107.60" y="598.8" font-size="10.6" textLength="19.4" lengthAdjust="spacing" stroke="#000" stroke-width="0.35">500</text>
<text x="482.5" y="548.2" font-size="10.6" textLength="25.5" lengthAdjust="spacing" stroke="#000" stroke-width="0.35">4000</text>
<text x="482.5" y="562.1" font-size="10.6" textLength="25.5" lengthAdjust="spacing" stroke="#000" stroke-width="0.35">3000</text>
<text x="482.5" y="577.0" font-size="10.6" textLength="25.5" lengthAdjust="spacing" stroke="#000" stroke-width="0.35">2000</text>
<text x="482.5" y="591.7" font-size="10.6" textLength="25.5" lengthAdjust="spacing" stroke="#000" stroke-width="0.35">1000</text>
</g>
<polygon points="143.70,553.00 144.93,556.50 148.65,556.59 145.70,558.85 146.76,562.41 143.70,560.30 140.64,562.41 141.70,558.85 138.75,556.59 142.47,556.50" fill="#000"/>
<polygon points="143.70,575.10 144.93,578.60 148.65,578.69 145.70,580.95 146.76,584.51 143.70,582.40 140.64,584.51 141.70,580.95 138.75,578.69 142.47,578.60" fill="#000"/>
<polygon points="143.70,589.80 144.93,593.30 148.65,593.39 145.70,595.65 146.76,599.21 143.70,597.10 140.64,599.21 141.70,595.65 138.75,593.39 142.47,593.30" fill="#000"/>
<defs><clipPath id="hpclip"><rect x="96" y="523" width="420" height="80"/></clipPath></defs><g clip-path="url(#hpclip)">
<path d="M143.60 595.00C146.97 593.65 157.10 589.70 163.85 586.90C170.60 584.10 177.35 579.73 184.10 578.20C190.85 576.67 197.60 577.95 204.35 577.70C211.10 577.45 217.85 577.38 224.60 576.70C231.35 576.02 238.10 573.90 244.85 573.60C251.60 573.30 258.35 574.98 265.10 574.90C271.85 574.82 278.60 573.65 285.35 573.10C292.10 572.55 298.85 571.43 305.60 571.60C312.35 571.77 319.10 574.30 325.85 574.10C332.60 573.90 339.35 570.78 346.10 570.40C352.85 570.02 359.60 572.22 366.35 571.80C373.10 571.38 379.85 568.63 386.60 567.90C393.35 567.17 400.10 568.17 406.85 567.40C413.60 566.63 420.35 565.07 427.10 563.30C433.85 561.53 440.60 559.17 447.35 556.80C454.10 554.43 464.23 550.38 467.60 549.10" fill="none" stroke="#ff0000" stroke-width="1.8" stroke-linejoin="round"/>
<polygon points="163.85,584.89 161.15,589.59 166.55,589.59" fill="#ff0000"/>
<polygon points="184.10,576.19 181.40,580.89 186.80,580.89" fill="#ff0000"/>
<polygon points="204.35,575.69 201.65,580.39 207.05,580.39" fill="#ff0000"/>
<polygon points="224.60,573.50 220.80,580.11 228.40,580.11" fill="#ff0000"/>
<polygon points="244.85,571.59 242.15,576.29 247.55,576.29" fill="#ff0000"/>
<polygon points="265.10,572.89 262.40,577.59 267.80,577.59" fill="#ff0000"/>
<polygon points="285.35,571.09 282.65,575.79 288.05,575.79" fill="#ff0000"/>
<polygon points="305.60,568.40 301.80,575.01 309.40,575.01" fill="#ff0000"/>
<polygon points="325.85,572.09 323.15,576.79 328.55,576.79" fill="#ff0000"/>
<polygon points="346.10,568.39 343.40,573.09 348.80,573.09" fill="#ff0000"/>
<polygon points="366.35,569.79 363.65,574.49 369.05,574.49" fill="#ff0000"/>
<polygon points="386.60,564.70 382.80,571.31 390.40,571.31" fill="#ff0000"/>
<polygon points="406.85,565.39 404.15,570.09 409.55,570.09" fill="#ff0000"/>
<polygon points="427.10,561.29 424.40,565.99 429.80,565.99" fill="#ff0000"/>
<polygon points="447.35,554.79 444.65,559.49 450.05,559.49" fill="#ff0000"/>
<polygon points="467.60,545.90 463.80,552.51 471.40,552.51" fill="#ff0000"/>
<path d="M143.60 595.00C146.97 595.02 157.10 595.00 163.85 595.10C170.60 595.20 177.35 595.85 184.10 595.60C190.85 595.35 197.60 594.25 204.35 593.60C211.10 592.95 217.85 593.50 224.60 591.70C231.35 589.90 238.10 584.93 244.85 582.80C251.60 580.67 258.35 579.27 265.10 578.90C271.85 578.53 278.60 580.30 285.35 580.60C292.10 580.90 298.85 581.30 305.60 580.70C312.35 580.10 319.10 576.77 325.85 577.00C332.60 577.23 339.35 579.90 346.10 582.10C352.85 584.30 359.60 588.60 366.35 590.20C373.10 591.80 379.85 591.05 386.60 591.70C393.35 592.35 400.10 593.18 406.85 594.10C413.60 595.02 420.35 595.82 427.10 597.20C433.85 598.58 440.60 601.63 447.35 602.40C454.10 603.17 464.23 601.90 467.60 601.80" fill="none" stroke="#ff0000" stroke-width="1.8" stroke-linejoin="round"/>
<polygon points="163.85,593.09 161.15,597.79 166.55,597.79" fill="#ff0000"/>
<polygon points="184.10,593.59 181.40,598.29 186.80,598.29" fill="#ff0000"/>
<polygon points="204.35,591.59 201.65,596.29 207.05,596.29" fill="#ff0000"/>
<polygon points="224.60,588.50 220.80,595.11 228.40,595.11" fill="#ff0000"/>
<polygon points="244.85,580.79 242.15,585.49 247.55,585.49" fill="#ff0000"/>
<polygon points="265.10,576.89 262.40,581.59 267.80,581.59" fill="#ff0000"/>
<polygon points="285.35,578.59 282.65,583.29 288.05,583.29" fill="#ff0000"/>
<polygon points="305.60,577.50 301.80,584.11 309.40,584.11" fill="#ff0000"/>
<polygon points="325.85,574.99 323.15,579.69 328.55,579.69" fill="#ff0000"/>
<polygon points="346.10,580.09 343.40,584.79 348.80,584.79" fill="#ff0000"/>
<polygon points="366.35,588.19 363.65,592.89 369.05,592.89" fill="#ff0000"/>
<polygon points="386.60,588.50 382.80,595.11 390.40,595.11" fill="#ff0000"/>
<polygon points="406.85,592.09 404.15,596.79 409.55,596.79" fill="#ff0000"/>
<polygon points="427.10,595.19 424.40,599.89 429.80,599.89" fill="#ff0000"/>
<polygon points="447.35,600.39 444.65,605.09 450.05,605.09" fill="#ff0000"/>
<polygon points="467.60,598.60 463.80,605.21 471.40,605.21" fill="#ff0000"/>
<path d="M143.60 595.00C146.97 595.55 157.10 598.03 163.85 598.30C170.60 598.57 177.35 597.05 184.10 596.60C190.85 596.15 197.60 596.15 204.35 595.60C211.10 595.05 217.85 593.52 224.60 593.30C231.35 593.08 238.10 594.22 244.85 594.30C251.60 594.38 258.35 593.88 265.10 593.80C271.85 593.72 278.60 593.78 285.35 593.80C292.10 593.82 298.85 593.77 305.60 593.90C312.35 594.03 319.10 594.35 325.85 594.60C332.60 594.85 339.35 595.88 346.10 595.40C352.85 594.92 359.60 592.43 366.35 591.70C373.10 590.97 379.85 590.35 386.60 591.00C393.35 591.65 400.10 594.75 406.85 595.60C413.60 596.45 420.35 596.48 427.10 596.10C433.85 595.72 440.60 594.02 447.35 593.30C454.10 592.58 464.23 592.05 467.60 591.80" fill="none" stroke="#ff0000" stroke-width="1.8" stroke-linejoin="round"/>
<polygon points="163.85,596.29 161.15,600.99 166.55,600.99" fill="#ff0000"/>
<polygon points="184.10,594.59 181.40,599.29 186.80,599.29" fill="#ff0000"/>
<polygon points="204.35,593.59 201.65,598.29 207.05,598.29" fill="#ff0000"/>
<polygon points="224.60,590.10 220.80,596.71 228.40,596.71" fill="#ff0000"/>
<polygon points="244.85,592.29 242.15,596.99 247.55,596.99" fill="#ff0000"/>
<polygon points="265.10,591.79 262.40,596.49 267.80,596.49" fill="#ff0000"/>
<polygon points="285.35,591.79 282.65,596.49 288.05,596.49" fill="#ff0000"/>
<polygon points="305.60,590.70 301.80,597.31 309.40,597.31" fill="#ff0000"/>
<polygon points="325.85,592.59 323.15,597.29 328.55,597.29" fill="#ff0000"/>
<polygon points="346.10,593.39 343.40,598.09 348.80,598.09" fill="#ff0000"/>
<polygon points="366.35,589.69 363.65,594.39 369.05,594.39" fill="#ff0000"/>
<polygon points="386.60,587.80 382.80,594.41 390.40,594.41" fill="#ff0000"/>
<polygon points="406.85,593.59 404.15,598.29 409.55,598.29" fill="#ff0000"/>
<polygon points="427.10,594.09 424.40,598.79 429.80,598.79" fill="#ff0000"/>
<polygon points="447.35,591.29 444.65,595.99 450.05,595.99" fill="#ff0000"/>
<polygon points="467.60,588.60 463.80,595.21 471.40,595.21" fill="#ff0000"/>
<path d="M143.60 580.20C146.97 579.48 158.96 577.32 163.85 575.90C168.74 574.48 169.59 571.63 172.96 571.70C176.34 571.77 178.87 575.70 184.10 576.30C189.33 576.90 198.95 576.33 204.35 575.30C209.75 574.27 213.12 570.75 216.50 570.10C219.88 569.45 219.88 570.70 224.60 571.40C229.32 572.10 238.10 574.58 244.85 574.30C251.60 574.02 258.35 570.85 265.10 569.70C271.85 568.55 278.60 568.15 285.35 567.40C292.10 566.65 298.85 565.85 305.60 565.20C312.35 564.55 319.10 564.97 325.85 563.50C332.60 562.03 339.35 558.57 346.10 556.40C352.85 554.23 359.60 552.10 366.35 550.50C373.10 548.90 379.85 547.95 386.60 546.80C393.35 545.65 400.10 544.13 406.85 543.60C413.60 543.07 420.35 542.95 427.10 543.60C433.85 544.25 440.60 545.17 447.35 547.50C454.10 549.83 464.23 555.92 467.60 557.60" fill="none" stroke="#0000ff" stroke-width="1.8" stroke-linejoin="round"/>
<rect x="161.65" y="574.60" width="4.40" height="4.40" fill="#0000ff"/>
<rect x="181.90" y="575.00" width="4.40" height="4.40" fill="#0000ff"/>
<rect x="202.15" y="574.00" width="4.40" height="4.40" fill="#0000ff"/>
<rect x="221.30" y="569.00" width="6.60" height="6.60" fill="#0000ff"/>
<rect x="242.65" y="573.00" width="4.40" height="4.40" fill="#0000ff"/>
<rect x="262.90" y="568.40" width="4.40" height="4.40" fill="#0000ff"/>
<rect x="283.15" y="566.10" width="4.40" height="4.40" fill="#0000ff"/>
<rect x="302.30" y="562.80" width="6.60" height="6.60" fill="#0000ff"/>
<rect x="323.65" y="562.20" width="4.40" height="4.40" fill="#0000ff"/>
<rect x="343.90" y="555.10" width="4.40" height="4.40" fill="#0000ff"/>
<rect x="364.15" y="549.20" width="4.40" height="4.40" fill="#0000ff"/>
<rect x="383.30" y="544.40" width="6.60" height="6.60" fill="#0000ff"/>
<rect x="404.65" y="542.30" width="4.40" height="4.40" fill="#0000ff"/>
<rect x="424.90" y="542.30" width="4.40" height="4.40" fill="#0000ff"/>
<rect x="445.15" y="546.20" width="4.40" height="4.40" fill="#0000ff"/>
<rect x="464.30" y="555.20" width="6.60" height="6.60" fill="#0000ff"/>
<path d="M143.60 580.20C146.97 581.03 157.10 585.12 163.85 585.20C170.60 585.28 177.35 581.78 184.10 580.70C190.85 579.62 197.60 579.20 204.35 578.70C211.10 578.20 217.85 578.22 224.60 577.70C231.35 577.18 238.10 576.70 244.85 575.60C251.60 574.50 258.35 571.98 265.10 571.10C271.85 570.22 278.60 569.45 285.35 570.30C292.10 571.15 298.85 575.32 305.60 576.20C312.35 577.08 319.10 575.22 325.85 575.60C332.60 575.98 339.35 578.40 346.10 578.50C352.85 578.60 359.60 576.58 366.35 576.20C373.10 575.82 379.85 576.33 386.60 576.20C393.35 576.07 400.10 574.62 406.85 575.40C413.60 576.18 420.35 579.73 427.10 580.90C433.85 582.07 440.60 582.78 447.35 582.40C454.10 582.02 464.23 579.23 467.60 578.60" fill="none" stroke="#0000ff" stroke-width="1.8" stroke-linejoin="round"/>
<rect x="161.65" y="583.90" width="4.40" height="4.40" fill="#0000ff"/>
<rect x="181.90" y="579.40" width="4.40" height="4.40" fill="#0000ff"/>
<rect x="202.15" y="577.40" width="4.40" height="4.40" fill="#0000ff"/>
<rect x="221.30" y="575.30" width="6.60" height="6.60" fill="#0000ff"/>
<rect x="242.65" y="574.30" width="4.40" height="4.40" fill="#0000ff"/>
<rect x="262.90" y="569.80" width="4.40" height="4.40" fill="#0000ff"/>
<rect x="283.15" y="569.00" width="4.40" height="4.40" fill="#0000ff"/>
<rect x="302.30" y="573.80" width="6.60" height="6.60" fill="#0000ff"/>
<rect x="323.65" y="574.30" width="4.40" height="4.40" fill="#0000ff"/>
<rect x="343.90" y="577.20" width="4.40" height="4.40" fill="#0000ff"/>
<rect x="364.15" y="574.90" width="4.40" height="4.40" fill="#0000ff"/>
<rect x="383.30" y="573.80" width="6.60" height="6.60" fill="#0000ff"/>
<rect x="404.65" y="574.10" width="4.40" height="4.40" fill="#0000ff"/>
<rect x="424.90" y="579.60" width="4.40" height="4.40" fill="#0000ff"/>
<rect x="445.15" y="581.10" width="4.40" height="4.40" fill="#0000ff"/>
<rect x="464.30" y="576.20" width="6.60" height="6.60" fill="#0000ff"/>
<path d="M143.60 580.20C146.97 581.02 158.79 583.37 163.85 585.10C168.91 586.83 170.60 588.68 173.97 590.60C177.35 592.52 179.04 595.15 184.10 596.60C189.16 598.05 197.60 599.50 204.35 599.30C211.10 599.10 217.85 595.73 224.60 595.40C231.35 595.07 238.10 597.00 244.85 597.30C251.60 597.60 258.35 597.22 265.10 597.20C271.85 597.18 278.60 597.30 285.35 597.20C292.10 597.10 298.85 597.15 305.60 596.60C312.35 596.05 319.10 595.45 325.85 593.90C332.60 592.35 339.35 589.13 346.10 587.30C352.85 585.47 359.60 584.75 366.35 582.90C373.10 581.05 379.85 578.60 386.60 576.20C393.35 573.80 400.10 570.95 406.85 568.50C413.60 566.05 420.35 561.12 427.10 561.50C433.85 561.88 440.60 568.60 447.35 570.80C454.10 573.00 464.23 574.05 467.60 574.70" fill="none" stroke="#0000ff" stroke-width="1.8" stroke-linejoin="round"/>
<rect x="161.65" y="583.80" width="4.40" height="4.40" fill="#0000ff"/>
<rect x="181.90" y="595.30" width="4.40" height="4.40" fill="#0000ff"/>
<rect x="202.15" y="598.00" width="4.40" height="4.40" fill="#0000ff"/>
<rect x="221.30" y="593.00" width="6.60" height="6.60" fill="#0000ff"/>
<rect x="242.65" y="596.00" width="4.40" height="4.40" fill="#0000ff"/>
<rect x="262.90" y="595.90" width="4.40" height="4.40" fill="#0000ff"/>
<rect x="283.15" y="595.90" width="4.40" height="4.40" fill="#0000ff"/>
<rect x="302.30" y="594.20" width="6.60" height="6.60" fill="#0000ff"/>
<rect x="323.65" y="592.60" width="4.40" height="4.40" fill="#0000ff"/>
<rect x="343.90" y="586.00" width="4.40" height="4.40" fill="#0000ff"/>
<rect x="364.15" y="581.60" width="4.40" height="4.40" fill="#0000ff"/>
<rect x="383.30" y="573.80" width="6.60" height="6.60" fill="#0000ff"/>
<rect x="404.65" y="567.20" width="4.40" height="4.40" fill="#0000ff"/>
<rect x="424.90" y="560.20" width="4.40" height="4.40" fill="#0000ff"/>
<rect x="445.15" y="569.50" width="4.40" height="4.40" fill="#0000ff"/>
<rect x="464.30" y="572.30" width="6.60" height="6.60" fill="#0000ff"/>
<path d="M143.60 558.20C146.97 556.42 157.10 549.95 163.85 547.50C170.60 545.05 179.04 544.85 184.10 543.50C189.16 542.15 190.85 539.92 194.22 539.40C197.60 538.88 200.97 540.12 204.35 540.40C207.72 540.68 211.10 541.48 214.47 541.10C217.85 540.72 219.54 537.22 224.60 538.10C229.66 538.98 238.10 543.98 244.85 546.40C251.60 548.82 258.35 552.15 265.10 552.60C271.85 553.05 278.60 549.95 285.35 549.10C292.10 548.25 298.85 548.62 305.60 547.50C312.35 546.38 319.10 545.20 325.85 542.40C332.60 539.60 339.35 533.32 346.10 530.70C352.85 528.08 359.60 525.75 366.35 526.70C373.10 527.65 379.85 531.90 386.60 536.40C393.35 540.90 400.10 550.15 406.85 553.70C413.60 557.25 420.35 556.13 427.10 557.70C433.85 559.27 440.60 561.18 447.35 563.10C454.10 565.02 464.23 568.18 467.60 569.20" fill="none" stroke="#00ff00" stroke-width="1.8" stroke-linejoin="round"/>
<circle cx="163.85" cy="548.40" r="2.30" fill="#00ff00"/>
<circle cx="184.10" cy="544.40" r="2.30" fill="#00ff00"/>
<circle cx="204.35" cy="541.30" r="2.30" fill="#00ff00"/>
<circle cx="224.60" cy="539.00" r="3.60" fill="#00ff00"/>
<circle cx="244.85" cy="547.30" r="2.30" fill="#00ff00"/>
<circle cx="265.10" cy="553.50" r="2.30" fill="#00ff00"/>
<circle cx="285.35" cy="550.00" r="2.30" fill="#00ff00"/>
<circle cx="305.60" cy="548.40" r="3.60" fill="#00ff00"/>
<circle cx="325.85" cy="543.30" r="2.30" fill="#00ff00"/>
<circle cx="346.10" cy="531.60" r="2.30" fill="#00ff00"/>
<circle cx="366.35" cy="527.60" r="2.30" fill="#00ff00"/>
<circle cx="386.60" cy="537.30" r="3.60" fill="#00ff00"/>
<circle cx="406.85" cy="554.60" r="2.30" fill="#00ff00"/>
<circle cx="427.10" cy="558.60" r="2.30" fill="#00ff00"/>
<circle cx="447.35" cy="564.00" r="2.30" fill="#00ff00"/>
<circle cx="467.60" cy="570.10" r="3.60" fill="#00ff00"/>
<path d="M143.60 558.20C146.97 559.08 157.10 562.78 163.85 563.50C170.60 564.22 177.35 563.17 184.10 562.50C190.85 561.83 197.60 560.35 204.35 559.50C211.10 558.65 217.85 558.08 224.60 557.40C231.35 556.72 238.10 556.20 244.85 555.40C251.60 554.60 258.35 552.60 265.10 552.60C271.85 552.60 278.60 554.80 285.35 555.40C292.10 556.00 298.85 556.57 305.60 556.20C312.35 555.83 319.10 553.90 325.85 553.20C332.60 552.50 339.35 552.45 346.10 552.00C352.85 551.55 359.60 550.50 366.35 550.50C373.10 550.50 379.85 551.85 386.60 552.00C393.35 552.15 400.10 551.77 406.85 551.40C413.60 551.03 420.35 550.72 427.10 549.80C433.85 548.88 440.60 546.28 447.35 545.90C454.10 545.52 464.23 547.23 467.60 547.50" fill="none" stroke="#00ff00" stroke-width="1.8" stroke-linejoin="round"/>
<circle cx="163.85" cy="564.40" r="2.30" fill="#00ff00"/>
<circle cx="184.10" cy="563.40" r="2.30" fill="#00ff00"/>
<circle cx="204.35" cy="560.40" r="2.30" fill="#00ff00"/>
<circle cx="224.60" cy="558.30" r="3.60" fill="#00ff00"/>
<circle cx="244.85" cy="556.30" r="2.30" fill="#00ff00"/>
<circle cx="265.10" cy="553.50" r="2.30" fill="#00ff00"/>
<circle cx="285.35" cy="556.30" r="2.30" fill="#00ff00"/>
<circle cx="305.60" cy="557.10" r="3.60" fill="#00ff00"/>
<circle cx="325.85" cy="554.10" r="2.30" fill="#00ff00"/>
<circle cx="346.10" cy="552.90" r="2.30" fill="#00ff00"/>
<circle cx="366.35" cy="551.40" r="2.30" fill="#00ff00"/>
<circle cx="386.60" cy="552.90" r="3.60" fill="#00ff00"/>
<circle cx="406.85" cy="552.30" r="2.30" fill="#00ff00"/>
<circle cx="427.10" cy="550.70" r="2.30" fill="#00ff00"/>
<circle cx="447.35" cy="546.80" r="2.30" fill="#00ff00"/>
<circle cx="467.60" cy="548.40" r="3.60" fill="#00ff00"/>
<path d="M143.60 558.20C146.97 560.62 157.10 569.33 163.85 572.70C170.60 576.07 177.35 576.78 184.10 578.40C190.85 580.02 197.60 581.82 204.35 582.40C211.10 582.98 217.85 582.32 224.60 581.90C231.35 581.48 238.10 581.17 244.85 579.90C251.60 578.63 258.35 576.52 265.10 574.30C271.85 572.08 278.60 568.22 285.35 566.60C292.10 564.98 298.85 565.27 305.60 564.60C312.35 563.93 319.10 563.23 325.85 562.60C332.60 561.97 339.35 561.30 346.10 560.80C352.85 560.30 359.60 560.18 366.35 559.60C373.10 559.02 379.85 557.72 386.60 557.30C393.35 556.88 400.10 557.30 406.85 557.10C413.60 556.90 420.35 556.53 427.10 556.10C433.85 555.67 440.60 554.38 447.35 554.50C454.10 554.62 464.23 556.42 467.60 556.80" fill="none" stroke="#00ff00" stroke-width="1.8" stroke-linejoin="round"/>
<circle cx="163.85" cy="573.60" r="2.30" fill="#00ff00"/>
<circle cx="184.10" cy="579.30" r="2.30" fill="#00ff00"/>
<circle cx="204.35" cy="583.30" r="2.30" fill="#00ff00"/>
<circle cx="224.60" cy="582.80" r="3.60" fill="#00ff00"/>
<circle cx="244.85" cy="580.80" r="2.30" fill="#00ff00"/>
<circle cx="265.10" cy="575.20" r="2.30" fill="#00ff00"/>
<circle cx="285.35" cy="567.50" r="2.30" fill="#00ff00"/>
<circle cx="305.60" cy="565.50" r="3.60" fill="#00ff00"/>
<circle cx="325.85" cy="563.50" r="2.30" fill="#00ff00"/>
<circle cx="346.10" cy="561.70" r="2.30" fill="#00ff00"/>
<circle cx="366.35" cy="560.50" r="2.30" fill="#00ff00"/>
<circle cx="386.60" cy="558.20" r="3.60" fill="#00ff00"/>
<circle cx="406.85" cy="558.00" r="2.30" fill="#00ff00"/>
<circle cx="427.10" cy="557.00" r="2.30" fill="#00ff00"/>
<circle cx="447.35" cy="555.40" r="2.30" fill="#00ff00"/>
<circle cx="467.60" cy="557.70" r="3.60" fill="#00ff00"/>
</g>
<rect x="95" y="602" width="422" height="2" fill="#666"/>
<path d="M504.00 425.00C501.17 424.82 492.58 424.38 487.00 423.90C481.42 423.42 476.00 422.68 470.50 422.10C465.00 421.52 459.30 420.98 454.00 420.40C448.70 419.82 444.03 419.45 438.70 418.60C433.37 417.75 427.25 416.33 422.00 415.30C416.75 414.27 412.53 413.70 407.20 412.40C401.87 411.10 395.87 409.37 390.00 407.50C384.13 405.63 377.83 403.70 372.00 401.20C366.17 398.70 360.50 395.47 355.00 392.50C349.50 389.53 343.17 386.23 339.00 383.40C334.83 380.57 332.28 377.73 330.00 375.50C327.72 373.27 326.80 372.25 325.30 370.00C323.80 367.75 322.00 364.15 321.00 362.00C320.00 359.85 320.07 359.00 319.30 357.10C318.53 355.20 317.28 353.05 316.40 350.60C315.52 348.15 314.53 345.80 314.00 342.40C313.47 339.00 313.40 333.93 313.20 330.20C313.00 326.47 312.92 322.60 312.80 320.00C312.68 317.40 312.67 316.58 312.50 314.60C312.33 312.62 312.78 309.95 311.80 308.10C310.82 306.25 308.20 305.03 306.60 303.50C305.00 301.97 302.88 300.57 302.20 298.90C301.52 297.23 302.25 295.03 302.50 293.50C302.75 291.97 302.85 291.32 303.70 289.70C304.55 288.08 305.47 285.70 307.60 283.80C309.73 281.90 312.90 280.10 316.50 278.30C320.10 276.50 325.05 274.20 329.20 273.00C333.35 271.80 337.10 272.77 341.40 271.10C345.70 269.43 350.50 265.78 355.00 263.00C359.50 260.22 364.07 257.57 368.40 254.40C372.73 251.23 376.92 247.60 381.00 244.00C385.08 240.40 390.92 234.67 392.90 232.80" fill="none" stroke="#ff0000" stroke-width="1.8" stroke-linejoin="round"/>
<polygon points="438.70,414.59 436.00,419.29 441.40,419.29" fill="#ff0000"/>
<polygon points="407.20,409.49 404.50,414.19 409.90,414.19" fill="#ff0000"/>
<polygon points="372.00,397.40 368.20,404.01 375.80,404.01" fill="#ff0000"/>
<polygon points="339.00,380.49 336.30,385.19 341.70,385.19" fill="#ff0000"/>
<polygon points="325.30,369.29 322.60,373.99 328.00,373.99" fill="#ff0000"/>
<polygon points="319.30,354.19 316.60,358.89 322.00,358.89" fill="#ff0000"/>
<polygon points="313.20,327.29 310.50,331.99 315.90,331.99" fill="#ff0000"/>
<polygon points="312.50,310.50 308.70,317.11 316.30,317.11" fill="#ff0000"/>
<polygon points="311.80,305.19 309.10,309.89 314.50,309.89" fill="#ff0000"/>
<polygon points="306.60,300.59 303.90,305.29 309.30,305.29" fill="#ff0000"/>
<polygon points="302.20,295.99 299.50,300.69 304.90,300.69" fill="#ff0000"/>
<polygon points="303.70,285.60 299.90,292.21 307.50,292.21" fill="#ff0000"/>
<polygon points="316.50,275.39 313.80,280.09 319.20,280.09" fill="#ff0000"/>
<polygon points="341.40,268.19 338.70,272.89 344.10,272.89" fill="#ff0000"/>
<polygon points="368.40,251.49 365.70,256.19 371.10,256.19" fill="#ff0000"/>
<polygon points="392.90,228.70 389.10,235.31 396.70,235.31" fill="#ff0000"/>
<path d="M504.00 425.00C501.17 424.58 492.50 423.30 487.00 422.50C481.50 421.70 479.35 421.25 471.00 420.20C462.65 419.15 447.85 418.07 436.90 416.20C425.95 414.33 413.95 411.70 405.30 409.00C396.65 406.30 390.62 403.25 385.00 400.00C379.38 396.75 376.43 393.50 371.60 389.50C366.77 385.50 360.55 380.52 356.00 376.00C351.45 371.48 347.30 366.40 344.30 362.40C341.30 358.40 339.63 355.57 338.00 352.00C336.37 348.43 335.27 344.33 334.50 341.00C333.73 337.67 332.93 335.33 333.40 332.00C333.87 328.67 335.52 323.68 337.30 321.00C339.08 318.32 340.43 318.55 344.10 315.90C347.77 313.25 354.13 309.15 359.30 305.10C364.47 301.05 371.32 295.03 375.10 291.60C378.88 288.17 379.68 286.22 382.00 284.50C384.32 282.78 386.83 281.83 389.00 281.30C391.17 280.77 393.50 280.85 395.00 281.30C396.50 281.75 397.40 282.38 398.00 284.00C398.60 285.62 398.88 288.88 398.60 291.00C398.32 293.12 397.45 295.45 396.30 296.70C395.15 297.95 393.18 298.22 391.70 298.50C390.22 298.78 388.68 298.90 387.40 298.40C386.12 297.90 384.90 296.63 384.00 295.50C383.10 294.37 381.95 293.02 382.00 291.60C382.05 290.18 383.23 287.87 384.30 287.00C385.37 286.13 387.72 286.50 388.40 286.40" fill="none" stroke="#0000ff" stroke-width="1.8" stroke-linejoin="round"/>
<rect x="468.80" y="418.00" width="4.40" height="4.40" fill="#0000ff"/>
<rect x="434.70" y="414.00" width="4.40" height="4.40" fill="#0000ff"/>
<rect x="403.10" y="406.80" width="4.40" height="4.40" fill="#0000ff"/>
<rect x="368.30" y="386.20" width="6.60" height="6.60" fill="#0000ff"/>
<rect x="342.10" y="360.20" width="4.40" height="4.40" fill="#0000ff"/>
<rect x="331.20" y="329.80" width="4.40" height="4.40" fill="#0000ff"/>
<rect x="341.90" y="313.70" width="4.40" height="4.40" fill="#0000ff"/>
<rect x="356.00" y="301.80" width="6.60" height="6.60" fill="#0000ff"/>
<rect x="372.90" y="289.40" width="4.40" height="4.40" fill="#0000ff"/>
<rect x="379.80" y="289.40" width="4.40" height="4.40" fill="#0000ff"/>
<rect x="382.10" y="282.50" width="4.40" height="4.40" fill="#0000ff"/>
<rect x="385.30" y="281.10" width="6.60" height="6.60" fill="#0000ff"/>
<rect x="386.00" y="287.00" width="4.40" height="4.40" fill="#0000ff"/>
<rect x="394.90" y="283.10" width="4.40" height="4.40" fill="#0000ff"/>
<rect x="393.80" y="290.80" width="6.60" height="6.60" fill="#0000ff"/>
<rect x="385.20" y="296.20" width="4.40" height="4.40" fill="#0000ff"/>
<path d="M504.00 425.00C500.83 425.33 491.25 426.60 485.00 427.00C478.75 427.40 472.50 427.65 466.50 427.40C460.50 427.15 454.68 426.40 449.00 425.50C443.32 424.60 438.07 423.33 432.40 422.00C426.73 420.67 420.65 419.10 415.00 417.50C409.35 415.90 404.00 414.32 398.50 412.40C393.00 410.48 387.15 408.33 382.00 406.00C376.85 403.67 372.27 400.98 367.60 398.40C362.93 395.82 358.28 393.32 354.00 390.50C349.72 387.68 345.33 384.58 341.90 381.50C338.47 378.42 335.72 374.65 333.40 372.00C331.08 369.35 329.20 368.42 328.00 365.60C326.80 362.78 326.40 358.53 326.20 355.10C326.00 351.67 326.17 348.10 326.80 345.00C327.43 341.90 328.47 338.67 330.00 336.50C331.53 334.33 333.67 332.92 336.00 332.00C338.33 331.08 342.08 330.83 344.00 331.00C345.92 331.17 347.50 332.00 347.50 333.00C347.50 334.00 345.47 336.13 344.00 337.00C342.53 337.87 341.03 337.98 338.70 338.20C336.37 338.42 332.42 338.32 330.00 338.30C327.58 338.28 327.02 338.13 324.20 338.10C321.38 338.07 316.30 338.20 313.10 338.10C309.90 338.00 307.58 337.78 305.00 337.50C302.42 337.22 300.10 336.98 297.60 336.40C295.10 335.82 292.38 335.03 290.00 334.00C287.62 332.97 285.47 331.45 283.30 330.20C281.13 328.95 278.63 327.65 277.00 326.50C275.37 325.35 274.58 324.47 273.50 323.30C272.42 322.13 271.05 320.52 270.50 319.50C269.95 318.48 269.70 318.03 270.20 317.20C270.70 316.37 272.27 315.17 273.50 314.50C274.73 313.83 276.92 313.42 277.60 313.20" fill="none" stroke="#00ff00" stroke-width="1.8" stroke-linejoin="round"/>
<circle cx="466.50" cy="427.40" r="2.30" fill="#00ff00"/>
<circle cx="432.40" cy="422.00" r="2.30" fill="#00ff00"/>
<circle cx="398.50" cy="412.40" r="2.30" fill="#00ff00"/>
<circle cx="367.60" cy="398.40" r="3.60" fill="#00ff00"/>
<circle cx="341.90" cy="381.50" r="2.30" fill="#00ff00"/>
<circle cx="326.20" cy="355.10" r="2.30" fill="#00ff00"/>
<circle cx="338.70" cy="338.20" r="2.30" fill="#00ff00"/>
<circle cx="313.10" cy="338.10" r="2.30" fill="#00ff00"/>
<circle cx="297.60" cy="336.40" r="3.60" fill="#00ff00"/>
<circle cx="283.30" cy="330.20" r="2.30" fill="#00ff00"/>
<circle cx="273.50" cy="323.30" r="2.30" fill="#00ff00"/>
<circle cx="270.20" cy="317.20" r="2.30" fill="#00ff00"/>
<circle cx="277.60" cy="313.20" r="3.60" fill="#00ff00"/>
<path d="M517.90 447.40C517.62 446.37 517.02 443.18 516.20 441.20C515.38 439.22 514.22 437.13 513.00 435.50C511.78 433.87 510.53 432.55 508.90 431.40C507.27 430.25 505.47 429.23 503.20 428.60C500.93 427.97 499.50 427.83 495.30 427.60C491.10 427.37 483.55 427.38 478.00 427.20C472.45 427.02 467.33 426.67 462.00 426.50C456.67 426.33 451.38 426.35 446.00 426.20C440.62 426.05 435.03 426.30 429.70 425.60C424.37 424.90 419.20 423.35 414.00 422.00C408.80 420.65 404.50 419.50 398.50 417.50C392.50 415.50 384.73 412.73 378.00 410.00C371.27 407.27 363.60 404.10 358.10 401.10C352.60 398.10 348.85 395.02 345.00 392.00C341.15 388.98 337.83 386.00 335.00 383.00C332.17 380.00 329.67 376.53 328.00 374.00C326.33 371.47 325.90 369.93 325.00 367.80C324.10 365.67 323.07 363.67 322.60 361.20C322.13 358.73 321.87 355.58 322.20 353.00C322.53 350.42 323.52 347.73 324.60 345.70C325.68 343.67 327.13 342.50 328.70 340.80C330.27 339.10 332.12 336.77 334.00 335.50C335.88 334.23 338.17 333.37 340.00 333.20C341.83 333.03 344.83 334.95 345.00 334.50C345.17 334.05 342.58 331.58 341.00 330.50C339.42 329.42 336.78 328.88 335.50 328.00C334.22 327.12 333.42 326.57 333.30 325.20C333.18 323.83 333.48 320.70 334.80 319.80C336.12 318.90 339.08 320.28 341.20 319.80C343.32 319.32 344.70 319.28 347.50 316.90C350.30 314.52 354.57 309.43 358.00 305.50C361.43 301.57 366.42 295.33 368.10 293.30" fill="none" stroke="#ff0000" stroke-width="1.8" stroke-linejoin="round"/>
<polygon points="495.30,425.39 492.60,430.09 498.00,430.09" fill="#ff0000"/>
<polygon points="462.00,423.59 459.30,428.29 464.70,428.29" fill="#ff0000"/>
<polygon points="429.70,422.69 427.00,427.39 432.40,427.39" fill="#ff0000"/>
<polygon points="398.50,413.40 394.70,420.01 402.30,420.01" fill="#ff0000"/>
<polygon points="358.10,398.19 355.40,402.89 360.80,402.89" fill="#ff0000"/>
<polygon points="328.70,337.89 326.00,342.59 331.40,342.59" fill="#ff0000"/>
<polygon points="345.00,330.40 341.20,337.01 348.80,337.01" fill="#ff0000"/>
<polygon points="333.30,322.29 330.60,326.99 336.00,326.99" fill="#ff0000"/>
<polygon points="334.80,315.70 331.00,322.31 338.60,322.31" fill="#ff0000"/>
<polygon points="340.60,315.50 336.80,322.11 344.40,322.11" fill="#ff0000"/>
<polygon points="347.50,313.99 344.80,318.69 350.20,318.69" fill="#ff0000"/>
<polygon points="368.10,289.20 364.30,295.81 371.90,295.81" fill="#ff0000"/>
<path d="M517.90 447.40C516.58 446.83 512.57 444.82 510.00 444.00C507.43 443.18 505.33 443.33 502.50 442.50C499.67 441.67 496.18 439.88 493.00 439.00C489.82 438.12 486.57 437.40 483.40 437.20C480.23 437.00 476.93 437.32 474.00 437.80C471.07 438.28 468.63 439.07 465.80 440.10C462.97 441.13 459.87 442.53 457.00 444.00C454.13 445.47 451.43 447.32 448.60 448.90C445.77 450.48 442.93 451.97 440.00 453.50C437.07 455.03 433.33 456.68 431.00 458.10C428.67 459.52 427.40 460.68 426.00 462.00C424.60 463.32 424.05 464.43 422.60 466.00C421.15 467.57 419.00 471.00 417.30 471.40C415.60 471.80 414.45 469.55 412.40 468.40C410.35 467.25 407.53 465.63 405.00 464.50C402.47 463.37 400.53 462.85 397.20 461.60C393.87 460.35 389.17 458.62 385.00 457.00C380.83 455.38 376.28 453.65 372.20 451.90C368.12 450.15 365.30 449.25 360.50 446.50C355.70 443.75 349.98 440.05 343.40 435.40C336.82 430.75 326.53 423.40 321.00 418.60C315.47 413.80 313.20 410.63 310.20 406.60C307.20 402.57 305.12 398.50 303.00 394.40C300.88 390.30 298.80 386.30 297.50 382.00C296.20 377.70 295.32 372.93 295.20 368.60C295.08 364.27 295.83 359.18 296.80 356.00C297.77 352.82 299.27 351.28 301.00 349.50C302.73 347.72 304.87 346.72 307.20 345.30C309.53 343.88 312.17 342.42 315.00 341.00C317.83 339.58 322.67 337.50 324.20 336.80" fill="none" stroke="#0000ff" stroke-width="1.8" stroke-linejoin="round"/>
<rect x="500.30" y="440.30" width="4.40" height="4.40" fill="#0000ff"/>
<rect x="481.20" y="435.00" width="4.40" height="4.40" fill="#0000ff"/>
<rect x="463.60" y="437.90" width="4.40" height="4.40" fill="#0000ff"/>
<rect x="445.30" y="445.60" width="6.60" height="6.60" fill="#0000ff"/>
<rect x="428.80" y="455.90" width="4.40" height="4.40" fill="#0000ff"/>
<rect x="420.40" y="463.80" width="4.40" height="4.40" fill="#0000ff"/>
<rect x="415.10" y="469.20" width="4.40" height="4.40" fill="#0000ff"/>
<rect x="409.10" y="465.10" width="6.60" height="6.60" fill="#0000ff"/>
<rect x="395.00" y="459.40" width="4.40" height="4.40" fill="#0000ff"/>
<rect x="370.00" y="449.70" width="4.40" height="4.40" fill="#0000ff"/>
<rect x="341.20" y="433.20" width="4.40" height="4.40" fill="#0000ff"/>
<rect x="306.90" y="403.30" width="6.60" height="6.60" fill="#0000ff"/>
<rect x="293.00" y="366.40" width="4.40" height="4.40" fill="#0000ff"/>
<rect x="305.00" y="343.10" width="4.40" height="4.40" fill="#0000ff"/>
<rect x="320.90" y="333.50" width="6.60" height="6.60" fill="#0000ff"/>
<path d="M517.90 447.40C516.25 448.25 511.58 450.73 508.00 452.50C504.42 454.27 501.07 456.88 496.40 458.00C491.73 459.12 485.92 458.38 480.00 459.20C474.08 460.02 467.03 461.88 460.90 462.90C454.77 463.92 448.02 464.58 443.20 465.30C438.38 466.02 435.37 467.67 432.00 467.20C428.63 466.73 426.77 463.77 423.00 462.50C419.23 461.23 415.13 460.45 409.40 459.60C403.67 458.75 396.75 458.90 388.60 457.40C380.45 455.90 370.73 453.08 360.50 450.60C350.27 448.12 338.57 445.40 327.20 442.50C315.83 439.60 303.77 436.87 292.30 433.20C280.83 429.53 269.63 425.47 258.40 420.50C247.17 415.53 235.25 408.98 224.90 403.40C214.55 397.82 205.22 392.67 196.30 387.00C187.38 381.33 179.57 375.38 171.40 369.40C163.23 363.42 154.38 357.02 147.30 351.10C140.22 345.18 131.97 336.77 128.90 333.90" fill="none" stroke="#00ff00" stroke-width="1.8" stroke-linejoin="round"/>
<circle cx="496.40" cy="458.00" r="2.30" fill="#00ff00"/>
<circle cx="480.00" cy="459.20" r="2.30" fill="#00ff00"/>
<circle cx="460.90" cy="462.90" r="2.30" fill="#00ff00"/>
<circle cx="443.20" cy="465.30" r="3.60" fill="#00ff00"/>
<circle cx="432.00" cy="467.50" r="2.30" fill="#00ff00"/>
<circle cx="410.00" cy="459.80" r="2.30" fill="#00ff00"/>
<circle cx="388.60" cy="457.40" r="2.30" fill="#00ff00"/>
<circle cx="360.50" cy="450.60" r="3.60" fill="#00ff00"/>
<circle cx="327.20" cy="442.50" r="2.30" fill="#00ff00"/>
<circle cx="292.30" cy="433.20" r="2.30" fill="#00ff00"/>
<circle cx="258.40" cy="420.50" r="2.30" fill="#00ff00"/>
<circle cx="224.90" cy="403.40" r="3.60" fill="#00ff00"/>
<circle cx="196.30" cy="387.00" r="2.30" fill="#00ff00"/>
<circle cx="171.40" cy="369.40" r="2.30" fill="#00ff00"/>
<circle cx="147.30" cy="351.10" r="2.30" fill="#00ff00"/>
<circle cx="128.90" cy="333.90" r="3.60" fill="#00ff00"/>
<line x1="524.20" y1="469.10" x2="0.00" y2="299.00" stroke="#ff0000" stroke-width="1.8"/>
<line x1="524.20" y1="469.10" x2="0.00" y2="436.10" stroke="#0000ff" stroke-width="1.8"/>
<polygon points="504.00,419.40 505.41,423.06 509.33,423.27 506.28,425.74 507.29,429.53 504.00,427.40 500.71,429.53 501.72,425.74 498.67,423.27 502.59,423.06" fill="#000"/>
<polygon points="517.90,441.80 519.31,445.46 523.23,445.67 520.18,448.14 521.19,451.93 517.90,449.80 514.61,451.93 515.62,448.14 512.57,445.67 516.49,445.46" fill="#000"/>
<polygon points="524.20,463.50 525.61,467.16 529.53,467.37 526.48,469.84 527.49,473.63 524.20,471.50 520.91,473.63 521.92,469.84 518.87,467.37 522.79,467.16" fill="#000"/>
<line x1="524.20" y1="469.10" x2="612" y2="452" stroke="#00ff00" stroke-width="1.8"/>
</svg></body></html>
